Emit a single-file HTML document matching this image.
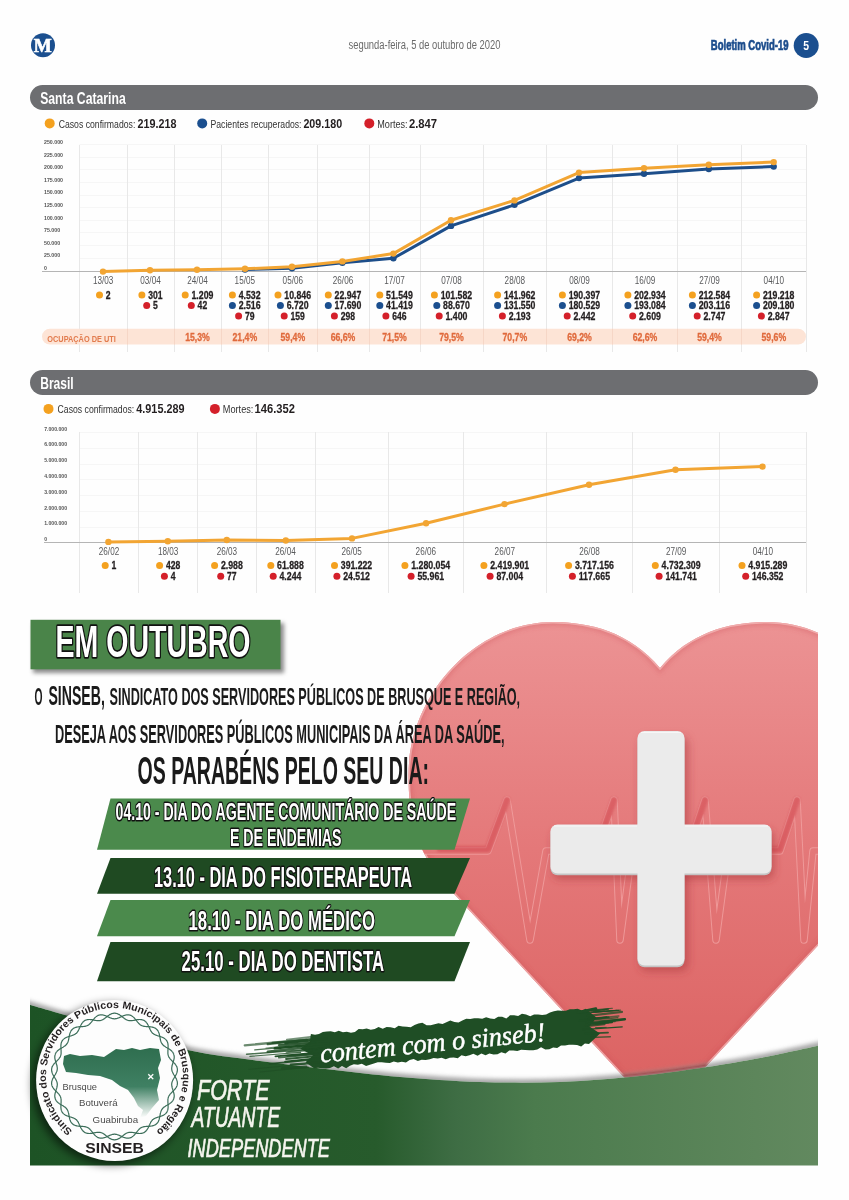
<!DOCTYPE html>
<html><head><meta charset="utf-8"><title>Boletim Covid-19</title>
<style>
html,body{margin:0;padding:0;background:#fff;}
body{width:849px;height:1200px;overflow:hidden;}
svg{display:block;}
</style></head>
<body>
<svg width="849" height="1200" viewBox="0 0 849 1200">
<rect x="0" y="0" width="849" height="1200" fill="#fefefe"/>
<circle cx="43.0" cy="45.3" r="12" fill="#1b4f8f"/>
<text x="42.8" y="51.6" font-family="'Liberation Serif', 'Times New Roman', serif" font-size="18.5" font-weight="bold" fill="#fff" text-anchor="middle" textLength="18.0" lengthAdjust="spacingAndGlyphs" stroke="#fff" stroke-width="0.6">M</text>
<text x="424.5" y="49.2" font-family="'Liberation Sans', Arial, sans-serif" font-size="12" fill="#6a6a6a" text-anchor="middle" textLength="152.0" lengthAdjust="spacingAndGlyphs">segunda-feira, 5 de outubro de 2020</text>
<text x="710.8" y="50.4" font-family="'Liberation Sans', Arial, sans-serif" font-size="14.5" font-weight="bold" fill="#1b4c8c" textLength="77.8" lengthAdjust="spacingAndGlyphs" stroke="#1b4c8c" stroke-width="0.7">Boletim Covid-19</text>
<circle cx="806.2" cy="45.5" r="12.5" fill="#1b4f8f"/>
<text x="806.2" y="50.3" font-family="'Liberation Sans', Arial, sans-serif" font-size="13" font-weight="bold" fill="#fff" text-anchor="middle" textLength="5.8" lengthAdjust="spacingAndGlyphs">5</text>
<rect x="30" y="85" width="788" height="25" rx="12.5" fill="#6d6e71"/>
<text x="40.2" y="103.6" font-family="'Liberation Sans', Arial, sans-serif" font-size="16" font-weight="bold" fill="#fff" textLength="85.5" lengthAdjust="spacingAndGlyphs">Santa Catarina</text>
<circle cx="49.7" cy="123.4" r="5" fill="#f4a11f"/>
<text x="58.7" y="127.7" font-family="'Liberation Sans', Arial, sans-serif" font-size="11.6" fill="#333" textLength="76.6" lengthAdjust="spacingAndGlyphs">Casos confirmados:</text>
<text x="137.4" y="127.7" font-family="'Liberation Sans', Arial, sans-serif" font-size="13" font-weight="bold" fill="#231f20" textLength="39.0" lengthAdjust="spacingAndGlyphs">219.218</text>
<circle cx="202.2" cy="123.4" r="5" fill="#1b4f8f"/>
<text x="210.5" y="127.7" font-family="'Liberation Sans', Arial, sans-serif" font-size="11.6" fill="#333" textLength="91.0" lengthAdjust="spacingAndGlyphs">Pacientes recuperados:</text>
<text x="303.4" y="127.7" font-family="'Liberation Sans', Arial, sans-serif" font-size="13" font-weight="bold" fill="#231f20" textLength="38.8" lengthAdjust="spacingAndGlyphs">209.180</text>
<circle cx="369.3" cy="123.4" r="5" fill="#d4202a"/>
<text x="377.3" y="127.7" font-family="'Liberation Sans', Arial, sans-serif" font-size="11.6" fill="#333" textLength="30.3" lengthAdjust="spacingAndGlyphs">Mortes:</text>
<text x="408.9" y="127.7" font-family="'Liberation Sans', Arial, sans-serif" font-size="13" font-weight="bold" fill="#231f20" textLength="28.2" lengthAdjust="spacingAndGlyphs">2.847</text>
<line x1="79.5" y1="144.5" x2="806" y2="144.5" stroke="#f6f6f6" stroke-width="1"/>
<line x1="79.5" y1="157.5" x2="806" y2="157.5" stroke="#f6f6f6" stroke-width="1"/>
<line x1="79.5" y1="169.5" x2="806" y2="169.5" stroke="#f6f6f6" stroke-width="1"/>
<line x1="79.5" y1="182.5" x2="806" y2="182.5" stroke="#f6f6f6" stroke-width="1"/>
<line x1="79.5" y1="195.5" x2="806" y2="195.5" stroke="#f6f6f6" stroke-width="1"/>
<line x1="79.5" y1="207.5" x2="806" y2="207.5" stroke="#f6f6f6" stroke-width="1"/>
<line x1="79.5" y1="220.5" x2="806" y2="220.5" stroke="#f6f6f6" stroke-width="1"/>
<line x1="79.5" y1="232.5" x2="806" y2="232.5" stroke="#f6f6f6" stroke-width="1"/>
<line x1="79.5" y1="245.5" x2="806" y2="245.5" stroke="#f6f6f6" stroke-width="1"/>
<line x1="79.5" y1="258.5" x2="806" y2="258.5" stroke="#f6f6f6" stroke-width="1"/>
<line x1="79.5" y1="145" x2="79.5" y2="352" stroke="#e8e8e8" stroke-width="1"/>
<line x1="127.5" y1="145" x2="127.5" y2="352" stroke="#e8e8e8" stroke-width="1"/>
<line x1="174.5" y1="145" x2="174.5" y2="352" stroke="#e8e8e8" stroke-width="1"/>
<line x1="221.5" y1="145" x2="221.5" y2="352" stroke="#e8e8e8" stroke-width="1"/>
<line x1="268.5" y1="145" x2="268.5" y2="352" stroke="#e8e8e8" stroke-width="1"/>
<line x1="317.5" y1="145" x2="317.5" y2="352" stroke="#e8e8e8" stroke-width="1"/>
<line x1="369.5" y1="145" x2="369.5" y2="352" stroke="#e8e8e8" stroke-width="1"/>
<line x1="420.5" y1="145" x2="420.5" y2="352" stroke="#e8e8e8" stroke-width="1"/>
<line x1="483.5" y1="145" x2="483.5" y2="352" stroke="#e8e8e8" stroke-width="1"/>
<line x1="546.5" y1="145" x2="546.5" y2="352" stroke="#e8e8e8" stroke-width="1"/>
<line x1="612.5" y1="145" x2="612.5" y2="352" stroke="#e8e8e8" stroke-width="1"/>
<line x1="677.5" y1="145" x2="677.5" y2="352" stroke="#e8e8e8" stroke-width="1"/>
<line x1="741.5" y1="145" x2="741.5" y2="352" stroke="#e8e8e8" stroke-width="1"/>
<line x1="806.5" y1="145" x2="806.5" y2="352" stroke="#e8e8e8" stroke-width="1"/>
<line x1="42" y1="271.5" x2="806" y2="271.5" stroke="#b5b5b5" stroke-width="1"/>
<text x="44.0" y="143.9" font-family="'Liberation Sans', Arial, sans-serif" font-size="5.2" font-weight="bold" fill="#555" textLength="19.0" lengthAdjust="spacingAndGlyphs">250.000</text>
<text x="44.0" y="156.5" font-family="'Liberation Sans', Arial, sans-serif" font-size="5.2" font-weight="bold" fill="#555" textLength="19.0" lengthAdjust="spacingAndGlyphs">225.000</text>
<text x="44.0" y="169.1" font-family="'Liberation Sans', Arial, sans-serif" font-size="5.2" font-weight="bold" fill="#555" textLength="19.0" lengthAdjust="spacingAndGlyphs">200.000</text>
<text x="44.0" y="181.7" font-family="'Liberation Sans', Arial, sans-serif" font-size="5.2" font-weight="bold" fill="#555" textLength="19.0" lengthAdjust="spacingAndGlyphs">175.000</text>
<text x="44.0" y="194.3" font-family="'Liberation Sans', Arial, sans-serif" font-size="5.2" font-weight="bold" fill="#555" textLength="19.0" lengthAdjust="spacingAndGlyphs">150.000</text>
<text x="44.0" y="206.9" font-family="'Liberation Sans', Arial, sans-serif" font-size="5.2" font-weight="bold" fill="#555" textLength="19.0" lengthAdjust="spacingAndGlyphs">125.000</text>
<text x="44.0" y="219.5" font-family="'Liberation Sans', Arial, sans-serif" font-size="5.2" font-weight="bold" fill="#555" textLength="19.0" lengthAdjust="spacingAndGlyphs">100.000</text>
<text x="44.0" y="232.1" font-family="'Liberation Sans', Arial, sans-serif" font-size="5.2" font-weight="bold" fill="#555" textLength="16.1" lengthAdjust="spacingAndGlyphs">75.000</text>
<text x="44.0" y="244.7" font-family="'Liberation Sans', Arial, sans-serif" font-size="5.2" font-weight="bold" fill="#555" textLength="16.1" lengthAdjust="spacingAndGlyphs">50.000</text>
<text x="44.0" y="257.3" font-family="'Liberation Sans', Arial, sans-serif" font-size="5.2" font-weight="bold" fill="#555" textLength="16.1" lengthAdjust="spacingAndGlyphs">25.000</text>
<text x="44.0" y="269.9" font-family="'Liberation Sans', Arial, sans-serif" font-size="5.2" font-weight="bold" fill="#555" textLength="2.9" lengthAdjust="spacingAndGlyphs">0</text>
<rect x="42" y="328.8" width="764" height="15.8" rx="7.9" fill="#fde4d6"/>
<line x1="127.5" y1="328.8" x2="127.5" y2="344.6" stroke="#f6d6c6" stroke-width="1"/>
<line x1="174.5" y1="328.8" x2="174.5" y2="344.6" stroke="#f6d6c6" stroke-width="1"/>
<line x1="221.5" y1="328.8" x2="221.5" y2="344.6" stroke="#f6d6c6" stroke-width="1"/>
<line x1="268.5" y1="328.8" x2="268.5" y2="344.6" stroke="#f6d6c6" stroke-width="1"/>
<line x1="317.5" y1="328.8" x2="317.5" y2="344.6" stroke="#f6d6c6" stroke-width="1"/>
<line x1="369.5" y1="328.8" x2="369.5" y2="344.6" stroke="#f6d6c6" stroke-width="1"/>
<line x1="420.5" y1="328.8" x2="420.5" y2="344.6" stroke="#f6d6c6" stroke-width="1"/>
<line x1="483.5" y1="328.8" x2="483.5" y2="344.6" stroke="#f6d6c6" stroke-width="1"/>
<line x1="546.5" y1="328.8" x2="546.5" y2="344.6" stroke="#f6d6c6" stroke-width="1"/>
<line x1="612.5" y1="328.8" x2="612.5" y2="344.6" stroke="#f6d6c6" stroke-width="1"/>
<line x1="677.5" y1="328.8" x2="677.5" y2="344.6" stroke="#f6d6c6" stroke-width="1"/>
<line x1="741.5" y1="328.8" x2="741.5" y2="344.6" stroke="#f6d6c6" stroke-width="1"/>
<polyline points="245,269.5 292,268.2 342.4,262.7 393.4,258.3 451,225.9 514.5,204.8 579,178.1 644,173.7 708.8,169.0 773.7,166.6" fill="none" stroke="#1d4e8a" stroke-width="3" stroke-linejoin="round"/>
<circle cx="245.0" cy="269.5" r="3.2" fill="#1d4e8a"/>
<circle cx="292.0" cy="268.2" r="3.2" fill="#1d4e8a"/>
<circle cx="342.4" cy="262.7" r="3.2" fill="#1d4e8a"/>
<circle cx="393.4" cy="258.3" r="3.2" fill="#1d4e8a"/>
<circle cx="451.0" cy="225.9" r="3.2" fill="#1d4e8a"/>
<circle cx="514.5" cy="204.8" r="3.2" fill="#1d4e8a"/>
<circle cx="579.0" cy="178.1" r="3.2" fill="#1d4e8a"/>
<circle cx="644.0" cy="173.7" r="3.2" fill="#1d4e8a"/>
<circle cx="708.8" cy="169.0" r="3.2" fill="#1d4e8a"/>
<circle cx="773.7" cy="166.6" r="3.2" fill="#1d4e8a"/>
<polyline points="103,271.6 150,270.3 197,269.8 245,268.8 292,266.8 342.4,261.4 393.4,253.6 451,220.2 514.5,200.4 579,172.6 644,168.3 708.8,164.7 773.7,162.1" fill="none" stroke="#f2a533" stroke-width="3" stroke-linejoin="round"/>
<circle cx="103.0" cy="271.6" r="3.2" fill="#f2a533"/>
<circle cx="150.0" cy="270.3" r="3.2" fill="#f2a533"/>
<circle cx="197.0" cy="269.8" r="3.2" fill="#f2a533"/>
<circle cx="245.0" cy="268.8" r="3.2" fill="#f2a533"/>
<circle cx="292.0" cy="266.8" r="3.2" fill="#f2a533"/>
<circle cx="342.4" cy="261.4" r="3.2" fill="#f2a533"/>
<circle cx="393.4" cy="253.6" r="3.2" fill="#f2a533"/>
<circle cx="451.0" cy="220.2" r="3.2" fill="#f2a533"/>
<circle cx="514.5" cy="200.4" r="3.2" fill="#f2a533"/>
<circle cx="579.0" cy="172.6" r="3.2" fill="#f2a533"/>
<circle cx="644.0" cy="168.3" r="3.2" fill="#f2a533"/>
<circle cx="708.8" cy="164.7" r="3.2" fill="#f2a533"/>
<circle cx="773.7" cy="162.1" r="3.2" fill="#f2a533"/>
<text x="103.2" y="283.9" font-family="'Liberation Sans', Arial, sans-serif" font-size="10.2" fill="#58595b" text-anchor="middle" textLength="20.4" lengthAdjust="spacingAndGlyphs">13/03</text>
<circle cx="99.5" cy="294.9" r="3.5" fill="#f4a11f"/>
<text x="105.8" y="298.6" font-family="'Liberation Sans', Arial, sans-serif" font-size="11" font-weight="bold" fill="#231f20" textLength="4.8" lengthAdjust="spacingAndGlyphs" stroke="#231f20" stroke-width="0.3">2</text>
<text x="150.5" y="283.9" font-family="'Liberation Sans', Arial, sans-serif" font-size="10.2" fill="#58595b" text-anchor="middle" textLength="20.4" lengthAdjust="spacingAndGlyphs">03/04</text>
<circle cx="141.9" cy="294.9" r="3.5" fill="#f4a11f"/>
<text x="148.2" y="298.6" font-family="'Liberation Sans', Arial, sans-serif" font-size="11" font-weight="bold" fill="#231f20" textLength="14.3" lengthAdjust="spacingAndGlyphs" stroke="#231f20" stroke-width="0.3">301</text>
<circle cx="146.7" cy="305.5" r="3.5" fill="#d4202a"/>
<text x="153.0" y="309.2" font-family="'Liberation Sans', Arial, sans-serif" font-size="11" font-weight="bold" fill="#231f20" textLength="4.8" lengthAdjust="spacingAndGlyphs" stroke="#231f20" stroke-width="0.3">5</text>
<text x="197.5" y="283.9" font-family="'Liberation Sans', Arial, sans-serif" font-size="10.2" fill="#58595b" text-anchor="middle" textLength="20.4" lengthAdjust="spacingAndGlyphs">24/04</text>
<circle cx="185.2" cy="294.9" r="3.5" fill="#f4a11f"/>
<text x="191.5" y="298.6" font-family="'Liberation Sans', Arial, sans-serif" font-size="11" font-weight="bold" fill="#231f20" textLength="21.9" lengthAdjust="spacingAndGlyphs" stroke="#231f20" stroke-width="0.3">1.209</text>
<circle cx="191.3" cy="305.5" r="3.5" fill="#d4202a"/>
<text x="197.6" y="309.2" font-family="'Liberation Sans', Arial, sans-serif" font-size="11" font-weight="bold" fill="#231f20" textLength="9.6" lengthAdjust="spacingAndGlyphs" stroke="#231f20" stroke-width="0.3">42</text>
<text x="197.5" y="341.4" font-family="'Liberation Sans', Arial, sans-serif" font-size="10.8" font-weight="bold" fill="#e06a3c" text-anchor="middle" textLength="24.7" lengthAdjust="spacingAndGlyphs" stroke="#e06a3c" stroke-width="0.3">15,3%</text>
<text x="244.8" y="283.9" font-family="'Liberation Sans', Arial, sans-serif" font-size="10.2" fill="#58595b" text-anchor="middle" textLength="20.4" lengthAdjust="spacingAndGlyphs">15/05</text>
<circle cx="232.4" cy="294.9" r="3.5" fill="#f4a11f"/>
<text x="238.7" y="298.6" font-family="'Liberation Sans', Arial, sans-serif" font-size="11" font-weight="bold" fill="#231f20" textLength="21.9" lengthAdjust="spacingAndGlyphs" stroke="#231f20" stroke-width="0.3">4.532</text>
<circle cx="232.4" cy="305.5" r="3.5" fill="#1b4f8f"/>
<text x="238.7" y="309.2" font-family="'Liberation Sans', Arial, sans-serif" font-size="11" font-weight="bold" fill="#231f20" textLength="21.9" lengthAdjust="spacingAndGlyphs" stroke="#231f20" stroke-width="0.3">2.516</text>
<circle cx="238.6" cy="316.1" r="3.5" fill="#d4202a"/>
<text x="244.9" y="319.8" font-family="'Liberation Sans', Arial, sans-serif" font-size="11" font-weight="bold" fill="#231f20" textLength="9.6" lengthAdjust="spacingAndGlyphs" stroke="#231f20" stroke-width="0.3">79</text>
<text x="244.8" y="341.4" font-family="'Liberation Sans', Arial, sans-serif" font-size="10.8" font-weight="bold" fill="#e06a3c" text-anchor="middle" textLength="24.7" lengthAdjust="spacingAndGlyphs" stroke="#e06a3c" stroke-width="0.3">21,4%</text>
<text x="292.8" y="283.9" font-family="'Liberation Sans', Arial, sans-serif" font-size="10.2" fill="#58595b" text-anchor="middle" textLength="20.4" lengthAdjust="spacingAndGlyphs">05/06</text>
<circle cx="278.0" cy="294.9" r="3.5" fill="#f4a11f"/>
<text x="284.3" y="298.6" font-family="'Liberation Sans', Arial, sans-serif" font-size="11" font-weight="bold" fill="#231f20" textLength="26.7" lengthAdjust="spacingAndGlyphs" stroke="#231f20" stroke-width="0.3">10.846</text>
<circle cx="280.4" cy="305.5" r="3.5" fill="#1b4f8f"/>
<text x="286.7" y="309.2" font-family="'Liberation Sans', Arial, sans-serif" font-size="11" font-weight="bold" fill="#231f20" textLength="21.9" lengthAdjust="spacingAndGlyphs" stroke="#231f20" stroke-width="0.3">6.720</text>
<circle cx="284.2" cy="316.1" r="3.5" fill="#d4202a"/>
<text x="290.5" y="319.8" font-family="'Liberation Sans', Arial, sans-serif" font-size="11" font-weight="bold" fill="#231f20" textLength="14.3" lengthAdjust="spacingAndGlyphs" stroke="#231f20" stroke-width="0.3">159</text>
<text x="292.8" y="341.4" font-family="'Liberation Sans', Arial, sans-serif" font-size="10.8" font-weight="bold" fill="#e06a3c" text-anchor="middle" textLength="24.7" lengthAdjust="spacingAndGlyphs" stroke="#e06a3c" stroke-width="0.3">59,4%</text>
<text x="343.0" y="283.9" font-family="'Liberation Sans', Arial, sans-serif" font-size="10.2" fill="#58595b" text-anchor="middle" textLength="20.4" lengthAdjust="spacingAndGlyphs">26/06</text>
<circle cx="328.3" cy="294.9" r="3.5" fill="#f4a11f"/>
<text x="334.6" y="298.6" font-family="'Liberation Sans', Arial, sans-serif" font-size="11" font-weight="bold" fill="#231f20" textLength="26.7" lengthAdjust="spacingAndGlyphs" stroke="#231f20" stroke-width="0.3">22.947</text>
<circle cx="328.3" cy="305.5" r="3.5" fill="#1b4f8f"/>
<text x="334.6" y="309.2" font-family="'Liberation Sans', Arial, sans-serif" font-size="11" font-weight="bold" fill="#231f20" textLength="26.7" lengthAdjust="spacingAndGlyphs" stroke="#231f20" stroke-width="0.3">17.690</text>
<circle cx="334.4" cy="316.1" r="3.5" fill="#d4202a"/>
<text x="340.7" y="319.8" font-family="'Liberation Sans', Arial, sans-serif" font-size="11" font-weight="bold" fill="#231f20" textLength="14.3" lengthAdjust="spacingAndGlyphs" stroke="#231f20" stroke-width="0.3">298</text>
<text x="343.0" y="341.4" font-family="'Liberation Sans', Arial, sans-serif" font-size="10.8" font-weight="bold" fill="#e06a3c" text-anchor="middle" textLength="24.7" lengthAdjust="spacingAndGlyphs" stroke="#e06a3c" stroke-width="0.3">66,6%</text>
<text x="394.5" y="283.9" font-family="'Liberation Sans', Arial, sans-serif" font-size="10.2" fill="#58595b" text-anchor="middle" textLength="20.4" lengthAdjust="spacingAndGlyphs">17/07</text>
<circle cx="379.8" cy="294.9" r="3.5" fill="#f4a11f"/>
<text x="386.1" y="298.6" font-family="'Liberation Sans', Arial, sans-serif" font-size="11" font-weight="bold" fill="#231f20" textLength="26.7" lengthAdjust="spacingAndGlyphs" stroke="#231f20" stroke-width="0.3">51.549</text>
<circle cx="379.8" cy="305.5" r="3.5" fill="#1b4f8f"/>
<text x="386.1" y="309.2" font-family="'Liberation Sans', Arial, sans-serif" font-size="11" font-weight="bold" fill="#231f20" textLength="26.7" lengthAdjust="spacingAndGlyphs" stroke="#231f20" stroke-width="0.3">41.419</text>
<circle cx="385.9" cy="316.1" r="3.5" fill="#d4202a"/>
<text x="392.2" y="319.8" font-family="'Liberation Sans', Arial, sans-serif" font-size="11" font-weight="bold" fill="#231f20" textLength="14.3" lengthAdjust="spacingAndGlyphs" stroke="#231f20" stroke-width="0.3">646</text>
<text x="394.5" y="341.4" font-family="'Liberation Sans', Arial, sans-serif" font-size="10.8" font-weight="bold" fill="#e06a3c" text-anchor="middle" textLength="24.7" lengthAdjust="spacingAndGlyphs" stroke="#e06a3c" stroke-width="0.3">71,5%</text>
<text x="451.5" y="283.9" font-family="'Liberation Sans', Arial, sans-serif" font-size="10.2" fill="#58595b" text-anchor="middle" textLength="20.4" lengthAdjust="spacingAndGlyphs">07/08</text>
<circle cx="434.4" cy="294.9" r="3.5" fill="#f4a11f"/>
<text x="440.7" y="298.6" font-family="'Liberation Sans', Arial, sans-serif" font-size="11" font-weight="bold" fill="#231f20" textLength="31.4" lengthAdjust="spacingAndGlyphs" stroke="#231f20" stroke-width="0.3">101.582</text>
<circle cx="436.8" cy="305.5" r="3.5" fill="#1b4f8f"/>
<text x="443.1" y="309.2" font-family="'Liberation Sans', Arial, sans-serif" font-size="11" font-weight="bold" fill="#231f20" textLength="26.7" lengthAdjust="spacingAndGlyphs" stroke="#231f20" stroke-width="0.3">88.670</text>
<circle cx="439.2" cy="316.1" r="3.5" fill="#d4202a"/>
<text x="445.5" y="319.8" font-family="'Liberation Sans', Arial, sans-serif" font-size="11" font-weight="bold" fill="#231f20" textLength="21.9" lengthAdjust="spacingAndGlyphs" stroke="#231f20" stroke-width="0.3">1.400</text>
<text x="451.5" y="341.4" font-family="'Liberation Sans', Arial, sans-serif" font-size="10.8" font-weight="bold" fill="#e06a3c" text-anchor="middle" textLength="24.7" lengthAdjust="spacingAndGlyphs" stroke="#e06a3c" stroke-width="0.3">79,5%</text>
<text x="514.8" y="283.9" font-family="'Liberation Sans', Arial, sans-serif" font-size="10.2" fill="#58595b" text-anchor="middle" textLength="20.4" lengthAdjust="spacingAndGlyphs">28/08</text>
<circle cx="497.6" cy="294.9" r="3.5" fill="#f4a11f"/>
<text x="503.9" y="298.6" font-family="'Liberation Sans', Arial, sans-serif" font-size="11" font-weight="bold" fill="#231f20" textLength="31.4" lengthAdjust="spacingAndGlyphs" stroke="#231f20" stroke-width="0.3">141.962</text>
<circle cx="497.6" cy="305.5" r="3.5" fill="#1b4f8f"/>
<text x="503.9" y="309.2" font-family="'Liberation Sans', Arial, sans-serif" font-size="11" font-weight="bold" fill="#231f20" textLength="31.4" lengthAdjust="spacingAndGlyphs" stroke="#231f20" stroke-width="0.3">131.550</text>
<circle cx="502.4" cy="316.1" r="3.5" fill="#d4202a"/>
<text x="508.7" y="319.8" font-family="'Liberation Sans', Arial, sans-serif" font-size="11" font-weight="bold" fill="#231f20" textLength="21.9" lengthAdjust="spacingAndGlyphs" stroke="#231f20" stroke-width="0.3">2.193</text>
<text x="514.8" y="341.4" font-family="'Liberation Sans', Arial, sans-serif" font-size="10.8" font-weight="bold" fill="#e06a3c" text-anchor="middle" textLength="24.7" lengthAdjust="spacingAndGlyphs" stroke="#e06a3c" stroke-width="0.3">70,7%</text>
<text x="579.5" y="283.9" font-family="'Liberation Sans', Arial, sans-serif" font-size="10.2" fill="#58595b" text-anchor="middle" textLength="20.4" lengthAdjust="spacingAndGlyphs">08/09</text>
<circle cx="562.4" cy="294.9" r="3.5" fill="#f4a11f"/>
<text x="568.7" y="298.6" font-family="'Liberation Sans', Arial, sans-serif" font-size="11" font-weight="bold" fill="#231f20" textLength="31.4" lengthAdjust="spacingAndGlyphs" stroke="#231f20" stroke-width="0.3">190.397</text>
<circle cx="562.4" cy="305.5" r="3.5" fill="#1b4f8f"/>
<text x="568.7" y="309.2" font-family="'Liberation Sans', Arial, sans-serif" font-size="11" font-weight="bold" fill="#231f20" textLength="31.4" lengthAdjust="spacingAndGlyphs" stroke="#231f20" stroke-width="0.3">180.529</text>
<circle cx="567.2" cy="316.1" r="3.5" fill="#d4202a"/>
<text x="573.5" y="319.8" font-family="'Liberation Sans', Arial, sans-serif" font-size="11" font-weight="bold" fill="#231f20" textLength="21.9" lengthAdjust="spacingAndGlyphs" stroke="#231f20" stroke-width="0.3">2.442</text>
<text x="579.5" y="341.4" font-family="'Liberation Sans', Arial, sans-serif" font-size="10.8" font-weight="bold" fill="#e06a3c" text-anchor="middle" textLength="24.7" lengthAdjust="spacingAndGlyphs" stroke="#e06a3c" stroke-width="0.3">69,2%</text>
<text x="645.0" y="283.9" font-family="'Liberation Sans', Arial, sans-serif" font-size="10.2" fill="#58595b" text-anchor="middle" textLength="20.4" lengthAdjust="spacingAndGlyphs">16/09</text>
<circle cx="627.9" cy="294.9" r="3.5" fill="#f4a11f"/>
<text x="634.2" y="298.6" font-family="'Liberation Sans', Arial, sans-serif" font-size="11" font-weight="bold" fill="#231f20" textLength="31.4" lengthAdjust="spacingAndGlyphs" stroke="#231f20" stroke-width="0.3">202.934</text>
<circle cx="627.9" cy="305.5" r="3.5" fill="#1b4f8f"/>
<text x="634.2" y="309.2" font-family="'Liberation Sans', Arial, sans-serif" font-size="11" font-weight="bold" fill="#231f20" textLength="31.4" lengthAdjust="spacingAndGlyphs" stroke="#231f20" stroke-width="0.3">193.084</text>
<circle cx="632.7" cy="316.1" r="3.5" fill="#d4202a"/>
<text x="639.0" y="319.8" font-family="'Liberation Sans', Arial, sans-serif" font-size="11" font-weight="bold" fill="#231f20" textLength="21.9" lengthAdjust="spacingAndGlyphs" stroke="#231f20" stroke-width="0.3">2.609</text>
<text x="645.0" y="341.4" font-family="'Liberation Sans', Arial, sans-serif" font-size="10.8" font-weight="bold" fill="#e06a3c" text-anchor="middle" textLength="24.7" lengthAdjust="spacingAndGlyphs" stroke="#e06a3c" stroke-width="0.3">62,6%</text>
<text x="709.5" y="283.9" font-family="'Liberation Sans', Arial, sans-serif" font-size="10.2" fill="#58595b" text-anchor="middle" textLength="20.4" lengthAdjust="spacingAndGlyphs">27/09</text>
<circle cx="692.4" cy="294.9" r="3.5" fill="#f4a11f"/>
<text x="698.7" y="298.6" font-family="'Liberation Sans', Arial, sans-serif" font-size="11" font-weight="bold" fill="#231f20" textLength="31.4" lengthAdjust="spacingAndGlyphs" stroke="#231f20" stroke-width="0.3">212.584</text>
<circle cx="692.4" cy="305.5" r="3.5" fill="#1b4f8f"/>
<text x="698.7" y="309.2" font-family="'Liberation Sans', Arial, sans-serif" font-size="11" font-weight="bold" fill="#231f20" textLength="31.4" lengthAdjust="spacingAndGlyphs" stroke="#231f20" stroke-width="0.3">203.116</text>
<circle cx="697.2" cy="316.1" r="3.5" fill="#d4202a"/>
<text x="703.5" y="319.8" font-family="'Liberation Sans', Arial, sans-serif" font-size="11" font-weight="bold" fill="#231f20" textLength="21.9" lengthAdjust="spacingAndGlyphs" stroke="#231f20" stroke-width="0.3">2.747</text>
<text x="709.5" y="341.4" font-family="'Liberation Sans', Arial, sans-serif" font-size="10.8" font-weight="bold" fill="#e06a3c" text-anchor="middle" textLength="24.7" lengthAdjust="spacingAndGlyphs" stroke="#e06a3c" stroke-width="0.3">59,4%</text>
<text x="773.8" y="283.9" font-family="'Liberation Sans', Arial, sans-serif" font-size="10.2" fill="#58595b" text-anchor="middle" textLength="20.4" lengthAdjust="spacingAndGlyphs">04/10</text>
<circle cx="756.6" cy="294.9" r="3.5" fill="#f4a11f"/>
<text x="762.9" y="298.6" font-family="'Liberation Sans', Arial, sans-serif" font-size="11" font-weight="bold" fill="#231f20" textLength="31.4" lengthAdjust="spacingAndGlyphs" stroke="#231f20" stroke-width="0.3">219.218</text>
<circle cx="756.6" cy="305.5" r="3.5" fill="#1b4f8f"/>
<text x="762.9" y="309.2" font-family="'Liberation Sans', Arial, sans-serif" font-size="11" font-weight="bold" fill="#231f20" textLength="31.4" lengthAdjust="spacingAndGlyphs" stroke="#231f20" stroke-width="0.3">209.180</text>
<circle cx="761.4" cy="316.1" r="3.5" fill="#d4202a"/>
<text x="767.7" y="319.8" font-family="'Liberation Sans', Arial, sans-serif" font-size="11" font-weight="bold" fill="#231f20" textLength="21.9" lengthAdjust="spacingAndGlyphs" stroke="#231f20" stroke-width="0.3">2.847</text>
<text x="773.8" y="341.4" font-family="'Liberation Sans', Arial, sans-serif" font-size="10.8" font-weight="bold" fill="#e06a3c" text-anchor="middle" textLength="24.7" lengthAdjust="spacingAndGlyphs" stroke="#e06a3c" stroke-width="0.3">59,6%</text>
<text x="47.3" y="341.6" font-family="'Liberation Sans', Arial, sans-serif" font-size="9.6" font-weight="bold" fill="#e27b4d" textLength="68.5" lengthAdjust="spacingAndGlyphs">OCUPAÇÃO DE UTI</text>
<rect x="30" y="370" width="788" height="25" rx="12.5" fill="#6d6e71"/>
<text x="40.2" y="388.6" font-family="'Liberation Sans', Arial, sans-serif" font-size="16" font-weight="bold" fill="#fff" textLength="33.5" lengthAdjust="spacingAndGlyphs">Brasil</text>
<circle cx="48.5" cy="408.9" r="5" fill="#f4a11f"/>
<text x="57.6" y="413.2" font-family="'Liberation Sans', Arial, sans-serif" font-size="11.6" fill="#333" textLength="76.6" lengthAdjust="spacingAndGlyphs">Casos confirmados:</text>
<text x="136.3" y="413.2" font-family="'Liberation Sans', Arial, sans-serif" font-size="13" font-weight="bold" fill="#231f20" textLength="48.2" lengthAdjust="spacingAndGlyphs">4.915.289</text>
<circle cx="214.9" cy="408.9" r="5" fill="#d4202a"/>
<text x="222.8" y="413.2" font-family="'Liberation Sans', Arial, sans-serif" font-size="11.6" fill="#333" textLength="30.6" lengthAdjust="spacingAndGlyphs">Mortes:</text>
<text x="254.5" y="413.2" font-family="'Liberation Sans', Arial, sans-serif" font-size="13" font-weight="bold" fill="#231f20" textLength="40.4" lengthAdjust="spacingAndGlyphs">146.352</text>
<line x1="79.5" y1="432.5" x2="806" y2="432.5" stroke="#f6f6f6" stroke-width="1"/>
<line x1="79.5" y1="448.5" x2="806" y2="448.5" stroke="#f6f6f6" stroke-width="1"/>
<line x1="79.5" y1="464.5" x2="806" y2="464.5" stroke="#f6f6f6" stroke-width="1"/>
<line x1="79.5" y1="479.5" x2="806" y2="479.5" stroke="#f6f6f6" stroke-width="1"/>
<line x1="79.5" y1="495.5" x2="806" y2="495.5" stroke="#f6f6f6" stroke-width="1"/>
<line x1="79.5" y1="511.5" x2="806" y2="511.5" stroke="#f6f6f6" stroke-width="1"/>
<line x1="79.5" y1="527.5" x2="806" y2="527.5" stroke="#f6f6f6" stroke-width="1"/>
<line x1="79.5" y1="432" x2="79.5" y2="593" stroke="#e8e8e8" stroke-width="1"/>
<line x1="138.5" y1="432" x2="138.5" y2="593" stroke="#e8e8e8" stroke-width="1"/>
<line x1="197.5" y1="432" x2="197.5" y2="593" stroke="#e8e8e8" stroke-width="1"/>
<line x1="256.5" y1="432" x2="256.5" y2="593" stroke="#e8e8e8" stroke-width="1"/>
<line x1="315.5" y1="432" x2="315.5" y2="593" stroke="#e8e8e8" stroke-width="1"/>
<line x1="388.5" y1="432" x2="388.5" y2="593" stroke="#e8e8e8" stroke-width="1"/>
<line x1="463.5" y1="432" x2="463.5" y2="593" stroke="#e8e8e8" stroke-width="1"/>
<line x1="546.5" y1="432" x2="546.5" y2="593" stroke="#e8e8e8" stroke-width="1"/>
<line x1="632.5" y1="432" x2="632.5" y2="593" stroke="#e8e8e8" stroke-width="1"/>
<line x1="719.5" y1="432" x2="719.5" y2="593" stroke="#e8e8e8" stroke-width="1"/>
<line x1="806.5" y1="432" x2="806.5" y2="593" stroke="#e8e8e8" stroke-width="1"/>
<line x1="44" y1="542.5" x2="806" y2="542.5" stroke="#b5b5b5" stroke-width="1"/>
<text x="44.2" y="430.6" font-family="'Liberation Sans', Arial, sans-serif" font-size="5.2" font-weight="bold" fill="#555" textLength="22.9" lengthAdjust="spacingAndGlyphs">7.000.000</text>
<text x="44.2" y="446.4" font-family="'Liberation Sans', Arial, sans-serif" font-size="5.2" font-weight="bold" fill="#555" textLength="22.9" lengthAdjust="spacingAndGlyphs">6.000.000</text>
<text x="44.2" y="462.2" font-family="'Liberation Sans', Arial, sans-serif" font-size="5.2" font-weight="bold" fill="#555" textLength="22.9" lengthAdjust="spacingAndGlyphs">5.000.000</text>
<text x="44.2" y="478.0" font-family="'Liberation Sans', Arial, sans-serif" font-size="5.2" font-weight="bold" fill="#555" textLength="22.9" lengthAdjust="spacingAndGlyphs">4.000.000</text>
<text x="44.2" y="493.8" font-family="'Liberation Sans', Arial, sans-serif" font-size="5.2" font-weight="bold" fill="#555" textLength="22.9" lengthAdjust="spacingAndGlyphs">3.000.000</text>
<text x="44.2" y="509.6" font-family="'Liberation Sans', Arial, sans-serif" font-size="5.2" font-weight="bold" fill="#555" textLength="22.9" lengthAdjust="spacingAndGlyphs">2.000.000</text>
<text x="44.2" y="525.4" font-family="'Liberation Sans', Arial, sans-serif" font-size="5.2" font-weight="bold" fill="#555" textLength="22.9" lengthAdjust="spacingAndGlyphs">1.000.000</text>
<text x="44.2" y="541.2" font-family="'Liberation Sans', Arial, sans-serif" font-size="5.2" font-weight="bold" fill="#555" textLength="2.8" lengthAdjust="spacingAndGlyphs">0</text>
<polyline points="108.4,541.9 167.8,541.2 226.8,540.0 285.8,540.5 352,538.4 426.1,523.2 504.5,504.1 589,484.7 675.5,469.8 762.5,466.6" fill="none" stroke="#f2a533" stroke-width="3" stroke-linejoin="round"/>
<circle cx="108.4" cy="541.9" r="3.2" fill="#f2a533"/>
<circle cx="167.8" cy="541.2" r="3.2" fill="#f2a533"/>
<circle cx="226.8" cy="540.0" r="3.2" fill="#f2a533"/>
<circle cx="285.8" cy="540.5" r="3.2" fill="#f2a533"/>
<circle cx="352.0" cy="538.4" r="3.2" fill="#f2a533"/>
<circle cx="426.1" cy="523.2" r="3.2" fill="#f2a533"/>
<circle cx="504.5" cy="504.1" r="3.2" fill="#f2a533"/>
<circle cx="589.0" cy="484.7" r="3.2" fill="#f2a533"/>
<circle cx="675.5" cy="469.8" r="3.2" fill="#f2a533"/>
<circle cx="762.5" cy="466.6" r="3.2" fill="#f2a533"/>
<text x="109.0" y="555.0" font-family="'Liberation Sans', Arial, sans-serif" font-size="10.2" fill="#58595b" text-anchor="middle" textLength="20.4" lengthAdjust="spacingAndGlyphs">26/02</text>
<circle cx="105.2" cy="565.6" r="3.5" fill="#f4a11f"/>
<text x="111.5" y="569.3" font-family="'Liberation Sans', Arial, sans-serif" font-size="11" font-weight="bold" fill="#231f20" textLength="4.8" lengthAdjust="spacingAndGlyphs" stroke="#231f20" stroke-width="0.3">1</text>
<text x="168.2" y="555.0" font-family="'Liberation Sans', Arial, sans-serif" font-size="10.2" fill="#58595b" text-anchor="middle" textLength="20.4" lengthAdjust="spacingAndGlyphs">18/03</text>
<circle cx="159.6" cy="565.6" r="3.5" fill="#f4a11f"/>
<text x="165.9" y="569.3" font-family="'Liberation Sans', Arial, sans-serif" font-size="11" font-weight="bold" fill="#231f20" textLength="14.3" lengthAdjust="spacingAndGlyphs" stroke="#231f20" stroke-width="0.3">428</text>
<circle cx="164.4" cy="576.2" r="3.5" fill="#d4202a"/>
<text x="170.7" y="579.9" font-family="'Liberation Sans', Arial, sans-serif" font-size="11" font-weight="bold" fill="#231f20" textLength="4.8" lengthAdjust="spacingAndGlyphs" stroke="#231f20" stroke-width="0.3">4</text>
<text x="226.9" y="555.0" font-family="'Liberation Sans', Arial, sans-serif" font-size="10.2" fill="#58595b" text-anchor="middle" textLength="20.4" lengthAdjust="spacingAndGlyphs">26/03</text>
<circle cx="214.6" cy="565.6" r="3.5" fill="#f4a11f"/>
<text x="220.9" y="569.3" font-family="'Liberation Sans', Arial, sans-serif" font-size="11" font-weight="bold" fill="#231f20" textLength="21.9" lengthAdjust="spacingAndGlyphs" stroke="#231f20" stroke-width="0.3">2.988</text>
<circle cx="220.7" cy="576.2" r="3.5" fill="#d4202a"/>
<text x="227.0" y="579.9" font-family="'Liberation Sans', Arial, sans-serif" font-size="11" font-weight="bold" fill="#231f20" textLength="9.6" lengthAdjust="spacingAndGlyphs" stroke="#231f20" stroke-width="0.3">77</text>
<text x="285.5" y="555.0" font-family="'Liberation Sans', Arial, sans-serif" font-size="10.2" fill="#58595b" text-anchor="middle" textLength="20.4" lengthAdjust="spacingAndGlyphs">26/04</text>
<circle cx="270.8" cy="565.6" r="3.5" fill="#f4a11f"/>
<text x="277.1" y="569.3" font-family="'Liberation Sans', Arial, sans-serif" font-size="11" font-weight="bold" fill="#231f20" textLength="26.7" lengthAdjust="spacingAndGlyphs" stroke="#231f20" stroke-width="0.3">61.888</text>
<circle cx="273.2" cy="576.2" r="3.5" fill="#d4202a"/>
<text x="279.5" y="579.9" font-family="'Liberation Sans', Arial, sans-serif" font-size="11" font-weight="bold" fill="#231f20" textLength="21.9" lengthAdjust="spacingAndGlyphs" stroke="#231f20" stroke-width="0.3">4.244</text>
<text x="351.6" y="555.0" font-family="'Liberation Sans', Arial, sans-serif" font-size="10.2" fill="#58595b" text-anchor="middle" textLength="20.4" lengthAdjust="spacingAndGlyphs">26/05</text>
<circle cx="334.5" cy="565.6" r="3.5" fill="#f4a11f"/>
<text x="340.8" y="569.3" font-family="'Liberation Sans', Arial, sans-serif" font-size="11" font-weight="bold" fill="#231f20" textLength="31.4" lengthAdjust="spacingAndGlyphs" stroke="#231f20" stroke-width="0.3">391.222</text>
<circle cx="336.9" cy="576.2" r="3.5" fill="#d4202a"/>
<text x="343.2" y="579.9" font-family="'Liberation Sans', Arial, sans-serif" font-size="11" font-weight="bold" fill="#231f20" textLength="26.7" lengthAdjust="spacingAndGlyphs" stroke="#231f20" stroke-width="0.3">24.512</text>
<text x="425.8" y="555.0" font-family="'Liberation Sans', Arial, sans-serif" font-size="10.2" fill="#58595b" text-anchor="middle" textLength="20.4" lengthAdjust="spacingAndGlyphs">26/06</text>
<circle cx="404.9" cy="565.6" r="3.5" fill="#f4a11f"/>
<text x="411.2" y="569.3" font-family="'Liberation Sans', Arial, sans-serif" font-size="11" font-weight="bold" fill="#231f20" textLength="39.0" lengthAdjust="spacingAndGlyphs" stroke="#231f20" stroke-width="0.3">1.280.054</text>
<circle cx="411.1" cy="576.2" r="3.5" fill="#d4202a"/>
<text x="417.4" y="579.9" font-family="'Liberation Sans', Arial, sans-serif" font-size="11" font-weight="bold" fill="#231f20" textLength="26.7" lengthAdjust="spacingAndGlyphs" stroke="#231f20" stroke-width="0.3">55.961</text>
<text x="504.8" y="555.0" font-family="'Liberation Sans', Arial, sans-serif" font-size="10.2" fill="#58595b" text-anchor="middle" textLength="20.4" lengthAdjust="spacingAndGlyphs">26/07</text>
<circle cx="483.9" cy="565.6" r="3.5" fill="#f4a11f"/>
<text x="490.2" y="569.3" font-family="'Liberation Sans', Arial, sans-serif" font-size="11" font-weight="bold" fill="#231f20" textLength="39.0" lengthAdjust="spacingAndGlyphs" stroke="#231f20" stroke-width="0.3">2.419.901</text>
<circle cx="490.1" cy="576.2" r="3.5" fill="#d4202a"/>
<text x="496.4" y="579.9" font-family="'Liberation Sans', Arial, sans-serif" font-size="11" font-weight="bold" fill="#231f20" textLength="26.7" lengthAdjust="spacingAndGlyphs" stroke="#231f20" stroke-width="0.3">87.004</text>
<text x="589.5" y="555.0" font-family="'Liberation Sans', Arial, sans-serif" font-size="10.2" fill="#58595b" text-anchor="middle" textLength="20.4" lengthAdjust="spacingAndGlyphs">26/08</text>
<circle cx="568.6" cy="565.6" r="3.5" fill="#f4a11f"/>
<text x="574.9" y="569.3" font-family="'Liberation Sans', Arial, sans-serif" font-size="11" font-weight="bold" fill="#231f20" textLength="39.0" lengthAdjust="spacingAndGlyphs" stroke="#231f20" stroke-width="0.3">3.717.156</text>
<circle cx="572.4" cy="576.2" r="3.5" fill="#d4202a"/>
<text x="578.7" y="579.9" font-family="'Liberation Sans', Arial, sans-serif" font-size="11" font-weight="bold" fill="#231f20" textLength="31.4" lengthAdjust="spacingAndGlyphs" stroke="#231f20" stroke-width="0.3">117.665</text>
<text x="676.2" y="555.0" font-family="'Liberation Sans', Arial, sans-serif" font-size="10.2" fill="#58595b" text-anchor="middle" textLength="20.4" lengthAdjust="spacingAndGlyphs">27/09</text>
<circle cx="655.3" cy="565.6" r="3.5" fill="#f4a11f"/>
<text x="661.6" y="569.3" font-family="'Liberation Sans', Arial, sans-serif" font-size="11" font-weight="bold" fill="#231f20" textLength="39.0" lengthAdjust="spacingAndGlyphs" stroke="#231f20" stroke-width="0.3">4.732.309</text>
<circle cx="659.1" cy="576.2" r="3.5" fill="#d4202a"/>
<text x="665.4" y="579.9" font-family="'Liberation Sans', Arial, sans-serif" font-size="11" font-weight="bold" fill="#231f20" textLength="31.4" lengthAdjust="spacingAndGlyphs" stroke="#231f20" stroke-width="0.3">141.741</text>
<text x="762.9" y="555.0" font-family="'Liberation Sans', Arial, sans-serif" font-size="10.2" fill="#58595b" text-anchor="middle" textLength="20.4" lengthAdjust="spacingAndGlyphs">04/10</text>
<circle cx="742.0" cy="565.6" r="3.5" fill="#f4a11f"/>
<text x="748.3" y="569.3" font-family="'Liberation Sans', Arial, sans-serif" font-size="11" font-weight="bold" fill="#231f20" textLength="39.0" lengthAdjust="spacingAndGlyphs" stroke="#231f20" stroke-width="0.3">4.915.289</text>
<circle cx="745.7" cy="576.2" r="3.5" fill="#d4202a"/>
<text x="752.0" y="579.9" font-family="'Liberation Sans', Arial, sans-serif" font-size="11" font-weight="bold" fill="#231f20" textLength="31.4" lengthAdjust="spacingAndGlyphs" stroke="#231f20" stroke-width="0.3">146.352</text>
<defs>
<linearGradient id="gHeart" x1="0" y1="620" x2="0" y2="1130" gradientUnits="userSpaceOnUse">
<stop offset="0" stop-color="#ec9394"/><stop offset="0.45" stop-color="#e47879"/><stop offset="1" stop-color="#da5f5e"/>
</linearGradient>
<linearGradient id="gGreen" x1="30" y1="0" x2="818" y2="0" gradientUnits="userSpaceOnUse">
<stop offset="0" stop-color="#1d5325"/><stop offset="0.44" stop-color="#275b2c"/><stop offset="0.54" stop-color="#3e6d44"/>
<stop offset="0.64" stop-color="#4b7b4d"/><stop offset="1" stop-color="#62895f"/>
</linearGradient>
<linearGradient id="gCross" x1="0" y1="0" x2="0" y2="1">
<stop offset="0" stop-color="#f1f1f1"/><stop offset="1" stop-color="#e6e6e6"/>
</linearGradient>
<linearGradient id="gMap" x1="0" y1="1048" x2="0" y2="1118" gradientUnits="userSpaceOnUse">
<stop offset="0" stop-color="#2f6e4f"/><stop offset="0.55" stop-color="#3f8063"/><stop offset="1" stop-color="#ffffff"/>
</linearGradient>
<filter id="fBlur2" x="-20%" y="-20%" width="140%" height="140%"><feGaussianBlur stdDeviation="2"/></filter>
<filter id="fBlur4" x="-20%" y="-20%" width="140%" height="140%"><feGaussianBlur stdDeviation="4"/></filter>
<filter id="fBlur1" x="-20%" y="-20%" width="140%" height="140%"><feGaussianBlur stdDeviation="1"/></filter>
<clipPath id="cpAd"><rect x="30" y="600" width="788" height="565.5"/></clipPath>
<clipPath id="cpHeart"><path d="M 660 1116 L 449.5 889 C 415 852 408.5 815 408.5 775 C 408.5 695 475 622 553 622 C 590 622 630 632 660 668 C 690 632 730 622 767 622 C 845 622 911.5 695 911.5 775 C 911.5 815 905 852 870.5 889 Z"/></clipPath>
<clipPath id="cpAboveGreen4"><path d="M 20.0 1000.5 C 21.7 1001.0 23.8 1001.6 30.4 1003.5 C 37.0 1005.4 44.7 1007.7 59.6 1012.0 C 74.5 1016.3 98.3 1023.3 120.0 1029.5 C 141.7 1035.7 166.7 1044.0 190.0 1049.0 C 213.3 1054.0 236.7 1056.3 260.0 1059.5 C 283.3 1062.7 306.7 1065.3 330.0 1068.0 C 353.3 1070.7 375.0 1073.4 400.0 1075.5 C 425.0 1077.6 453.3 1079.7 480.0 1080.5 C 506.7 1081.3 533.3 1081.5 560.0 1080.5 C 586.7 1079.5 615.5 1077.0 640.0 1074.5 C 664.5 1072.0 687.0 1068.5 707.0 1065.5 C 727.0 1062.5 741.5 1060.0 760.0 1056.5 C 778.5 1053.0 806.3 1046.7 818.0 1044.2 C 829.7 1041.7 828.0 1042.0 830.0 1041.5 L 830 600 L 20 600 Z"/></clipPath>
<clipPath id="cpAboveGreen"><path d="M 20.0 1002.0 C 21.7 1002.5 23.8 1003.1 30.4 1005.0 C 37.0 1006.9 44.7 1009.2 59.6 1013.5 C 74.5 1017.8 98.3 1024.8 120.0 1031.0 C 141.7 1037.2 166.7 1045.5 190.0 1050.5 C 213.3 1055.5 236.7 1057.8 260.0 1061.0 C 283.3 1064.2 306.7 1066.8 330.0 1069.5 C 353.3 1072.2 375.0 1074.9 400.0 1077.0 C 425.0 1079.1 453.3 1081.2 480.0 1082.0 C 506.7 1082.8 533.3 1083.0 560.0 1082.0 C 586.7 1081.0 615.5 1078.5 640.0 1076.0 C 664.5 1073.5 687.0 1070.0 707.0 1067.0 C 727.0 1064.0 741.5 1061.5 760.0 1058.0 C 778.5 1054.5 806.3 1048.2 818.0 1045.7 C 829.7 1043.2 828.0 1043.5 830.0 1043.0 L 830 600 L 20 600 Z"/></clipPath>
</defs>
<g clip-path="url(#cpAd)">
<g clip-path="url(#cpAboveGreen4)">
<path d="M 660 1116 L 449.5 889 C 415 852 408.5 815 408.5 775 C 408.5 695 475 622 553 622 C 590 622 630 632 660 668 C 690 632 730 622 767 622 C 845 622 911.5 695 911.5 775 C 911.5 815 905 852 870.5 889 Z" fill="url(#gHeart)"/>
<g clip-path="url(#cpHeart)"><path d="M 660 1116 L 449.5 889 C 415 852 408.5 815 408.5 775 C 408.5 695 475 622 553 622 C 590 622 630 632 660 668 C 690 632 730 622 767 622 C 845 622 911.5 695 911.5 775 C 911.5 815 905 852 870.5 889 Z" fill="none" stroke="#c9484c" stroke-opacity="0.25" stroke-width="8" filter="url(#fBlur2)"/><path d="M 660 1116 L 449.5 889 C 415 852 408.5 815 408.5 775 C 408.5 695 475 622 553 622 C 590 622 630 632 660 668 C 690 632 730 622 767 622 C 845 622 911.5 695 911.5 775 C 911.5 815 905 852 870.5 889 Z" fill="none" stroke="#f2b4b4" stroke-opacity="0.8" stroke-width="3"/>
<path d="M 400 851 L 488 851 L 507 800 L 530 940 L 546 851 L 596 851 L 614 800 L 620 940 L 632 851 L 688 851 L 705 800 L 716 940 L 728 851 L 780 851 L 797 800 L 804 940 L 813 851 L 840 851" fill="none" stroke="#f2a4a4" stroke-opacity="0.75" stroke-width="7.5" stroke-linejoin="round" stroke-linecap="round"/>
<path d="M 400 851 L 488 851 L 507 800 L 530 940 L 546 851 L 596 851 L 614 800 L 620 940 L 632 851 L 688 851 L 705 800 L 716 940 L 728 851 L 780 851 L 797 800 L 804 940 L 813 851 L 840 851" fill="none" stroke="url(#gHeart)" stroke-width="5.5" stroke-linejoin="round" stroke-linecap="round"/>
<path d="M 440 849 L 488 849 L 507 800" fill="none" stroke="#d2474e" stroke-opacity="0.55" stroke-width="6.5" stroke-linejoin="round" stroke-linecap="round" filter="url(#fBlur1)"/>
<path d="M 590 849 L 596 849 L 614 800" fill="none" stroke="#d2474e" stroke-opacity="0.55" stroke-width="6.5" stroke-linejoin="round" stroke-linecap="round" filter="url(#fBlur1)"/>
<path d="M 680 849 L 688 849 L 705 800" fill="none" stroke="#d2474e" stroke-opacity="0.55" stroke-width="6.5" stroke-linejoin="round" stroke-linecap="round" filter="url(#fBlur1)"/>
<path d="M 774 849 L 780 849 L 797 800" fill="none" stroke="#d2474e" stroke-opacity="0.55" stroke-width="6.5" stroke-linejoin="round" stroke-linecap="round" filter="url(#fBlur1)"/>
</g>
<g filter="url(#fBlur4)" fill="#a8363c" fill-opacity="0.55"><rect x="640" y="737" width="48" height="234" rx="7"/><rect x="553" y="830" width="221" height="49" rx="7"/></g>
</g>
<g fill="#c4c4c4"><rect x="637.5" y="732.8" width="47" height="234.5" rx="7"/><rect x="550.5" y="826.3" width="221" height="49" rx="7"/></g>
<g fill="#ebebeb"><rect x="637.5" y="731" width="47" height="234.5" rx="7"/><rect x="550.5" y="824.5" width="221" height="49" rx="7"/></g>
<g fill="none" stroke="#f7f7f7" stroke-width="1.2"><path d="M 641 732.5 L 681 732.5"/><path d="M 554 826 L 637 826"/><path d="M 685 826 L 768 826"/></g>
<g clip-path="url(#cpAboveGreen)"><path d="M 20.0 1003.0 C 21.7 1003.5 23.8 1004.1 30.4 1006.0 C 37.0 1007.9 44.7 1010.2 59.6 1014.5 C 74.5 1018.8 98.3 1025.8 120.0 1032.0 C 141.7 1038.2 166.7 1046.5 190.0 1051.5 C 213.3 1056.5 236.7 1058.8 260.0 1062.0 C 283.3 1065.2 306.7 1067.8 330.0 1070.5 C 353.3 1073.2 375.0 1075.9 400.0 1078.0 C 425.0 1080.1 453.3 1082.2 480.0 1083.0 C 506.7 1083.8 533.3 1084.0 560.0 1083.0 C 586.7 1082.0 615.5 1079.5 640.0 1077.0 C 664.5 1074.5 687.0 1071.0 707.0 1068.0 C 727.0 1065.0 741.5 1062.5 760.0 1059.0 C 778.5 1055.5 806.3 1049.2 818.0 1046.7 C 829.7 1044.2 828.0 1044.5 830.0 1044.0" fill="none" stroke="#8a8a8a" stroke-opacity="0.75" stroke-width="9" filter="url(#fBlur2)"/></g>
<g clip-path="url(#cpHeart)"><path d="M 20.0 1001.0 C 21.7 1001.5 23.8 1002.1 30.4 1004.0 C 37.0 1005.9 44.7 1008.2 59.6 1012.5 C 74.5 1016.8 98.3 1023.8 120.0 1030.0 C 141.7 1036.2 166.7 1044.5 190.0 1049.5 C 213.3 1054.5 236.7 1056.8 260.0 1060.0 C 283.3 1063.2 306.7 1065.8 330.0 1068.5 C 353.3 1071.2 375.0 1073.9 400.0 1076.0 C 425.0 1078.1 453.3 1080.2 480.0 1081.0 C 506.7 1081.8 533.3 1082.0 560.0 1081.0 C 586.7 1080.0 615.5 1077.5 640.0 1075.0 C 664.5 1072.5 687.0 1069.0 707.0 1066.0 C 727.0 1063.0 741.5 1060.5 760.0 1057.0 C 778.5 1053.5 806.3 1047.2 818.0 1044.7 C 829.7 1042.2 828.0 1042.5 830.0 1042.0" fill="none" stroke="#9c2f35" stroke-opacity="0.7" stroke-width="3" filter="url(#fBlur1)"/></g>
<path d="M 20.0 1002.0 C 21.7 1002.5 23.8 1003.1 30.4 1005.0 C 37.0 1006.9 44.7 1009.2 59.6 1013.5 C 74.5 1017.8 98.3 1024.8 120.0 1031.0 C 141.7 1037.2 166.7 1045.5 190.0 1050.5 C 213.3 1055.5 236.7 1057.8 260.0 1061.0 C 283.3 1064.2 306.7 1066.8 330.0 1069.5 C 353.3 1072.2 375.0 1074.9 400.0 1077.0 C 425.0 1079.1 453.3 1081.2 480.0 1082.0 C 506.7 1082.8 533.3 1083.0 560.0 1082.0 C 586.7 1081.0 615.5 1078.5 640.0 1076.0 C 664.5 1073.5 687.0 1070.0 707.0 1067.0 C 727.0 1064.0 741.5 1061.5 760.0 1058.0 C 778.5 1054.5 806.3 1048.2 818.0 1045.7 C 829.7 1043.2 828.0 1043.5 830.0 1043.0 L 830 1170 L 20 1170 Z" fill="url(#gGreen)"/>
</g>
<g transform="translate(440 1040) rotate(-5.2)">
<polygon points="-128.0,-17.6 -124.0,-16.5 -120.0,-16.9 -116.0,-18.6 -112.0,-18.7 -108.0,-18.5 -104.0,-17.3 -100.0,-18.4 -96.0,-16.5 -92.0,-16.7 -88.0,-15.3 -84.0,-15.7 -80.0,-18.3 -76.0,-17.7 -72.0,-18.1 -68.0,-16.5 -64.0,-16.8 -60.0,-18.6 -56.0,-16.4 -52.0,-17.7 -48.0,-17.2 -44.0,-15.9 -40.0,-17.9 -36.0,-16.9 -32.0,-16.2 -28.0,-15.3 -24.0,-17.3 -20.0,-18.3 -16.0,-18.7 -12.0,-16.0 -8.0,-15.6 -4.0,-16.3 0.0,-16.7 4.0,-15.8 8.0,-17.1 12.0,-18.6 16.0,-16.5 20.0,-15.8 24.0,-17.4 28.0,-18.7 32.0,-18.2 36.0,-18.6 40.0,-18.3 44.0,-17.4 48.0,-18.5 52.0,-16.8 56.0,-15.9 60.0,-17.8 64.0,-17.5 68.0,-15.4 72.0,-18.2 76.0,-18.0 80.0,-16.7 84.0,-18.8 88.0,-17.5 92.0,-15.4 96.0,-16.9 100.0,-16.4 104.0,-15.6 108.0,-15.7 112.0,-17.4 116.0,-18.4 120.0,-18.6 124.0,-18.0 128.0,-17.6 132.0,-18.8 136.0,-18.4 140.0,-18.7 144.0,-16.6 148.0,-17.9 158.0,-8.0 150.0,0.0 160.0,8.0 148.0,17.5 144.0,16.7 140.0,19.3 136.0,17.5 132.0,16.7 128.0,16.4 124.0,16.8 120.0,16.4 116.0,18.5 112.0,17.6 108.0,19.1 104.0,19.0 100.0,16.4 96.0,18.4 92.0,18.7 88.0,18.2 84.0,17.7 80.0,17.1 76.0,17.9 72.0,17.0 68.0,16.7 64.0,19.4 60.0,17.7 56.0,19.3 52.0,19.4 48.0,17.8 44.0,19.3 40.0,17.1 36.0,19.0 32.0,16.6 28.0,17.9 24.0,18.6 20.0,17.2 16.0,19.8 12.0,18.7 8.0,18.6 4.0,19.6 0.0,17.8 -4.0,18.3 -8.0,17.3 -12.0,18.3 -16.0,18.6 -20.0,18.0 -24.0,18.9 -28.0,16.6 -32.0,17.2 -36.0,19.4 -40.0,18.3 -44.0,18.7 -48.0,17.3 -52.0,18.3 -56.0,17.7 -60.0,16.9 -64.0,16.4 -68.0,17.5 -72.0,18.3 -76.0,19.1 -80.0,16.6 -84.0,17.2 -88.0,16.4 -92.0,17.6 -96.0,19.6 -100.0,17.0 -104.0,19.2 -108.0,16.5 -112.0,17.8 -116.0,18.0 -120.0,17.5 -124.0,16.5 -128.0,16.7 -136.0,10.0 -128.0,4.0 -140.0,-4.0 -130.0,-10.0" fill="#1f4e25"/>
<line x1="-193.9" y1="-3.3" x2="-114.5" y2="-2.4" stroke="#1f4e25" stroke-width="1.6" stroke-opacity="0.79" stroke-linecap="round"/>
<line x1="-194.9" y1="-12.3" x2="-129.7" y2="-12.7" stroke="#1f4e25" stroke-width="2.3" stroke-opacity="0.66" stroke-linecap="round"/>
<line x1="-152.5" y1="-14.3" x2="-124.2" y2="-15.0" stroke="#1f4e25" stroke-width="1.8" stroke-opacity="0.61" stroke-linecap="round"/>
<line x1="-151.1" y1="1.9" x2="-114.1" y2="2.3" stroke="#1f4e25" stroke-width="1.3" stroke-opacity="0.75" stroke-linecap="round"/>
<line x1="-161.4" y1="-9.7" x2="-124.0" y2="-9.1" stroke="#1f4e25" stroke-width="1.4" stroke-opacity="0.69" stroke-linecap="round"/>
<line x1="-150.8" y1="11.0" x2="-114.4" y2="11.6" stroke="#1f4e25" stroke-width="2.3" stroke-opacity="0.90" stroke-linecap="round"/>
<line x1="-174.1" y1="-7.7" x2="-129.3" y2="-8.7" stroke="#1f4e25" stroke-width="0.9" stroke-opacity="0.71" stroke-linecap="round"/>
<line x1="-165.4" y1="-6.7" x2="-111.3" y2="-6.8" stroke="#1f4e25" stroke-width="2.5" stroke-opacity="1.00" stroke-linecap="round"/>
<line x1="-181.8" y1="15.6" x2="-133.4" y2="15.0" stroke="#1f4e25" stroke-width="1.2" stroke-opacity="0.68" stroke-linecap="round"/>
<line x1="-155.0" y1="5.0" x2="-114.8" y2="4.9" stroke="#1f4e25" stroke-width="2.0" stroke-opacity="0.92" stroke-linecap="round"/>
<line x1="-167.0" y1="-12.3" x2="-112.7" y2="-11.7" stroke="#1f4e25" stroke-width="2.2" stroke-opacity="0.79" stroke-linecap="round"/>
<line x1="-160.5" y1="-9.3" x2="-130.0" y2="-8.7" stroke="#1f4e25" stroke-width="2.5" stroke-opacity="0.76" stroke-linecap="round"/>
<line x1="-152.7" y1="-2.2" x2="-118.3" y2="-2.8" stroke="#1f4e25" stroke-width="1.0" stroke-opacity="0.66" stroke-linecap="round"/>
<line x1="-159.7" y1="14.0" x2="-135.6" y2="14.6" stroke="#1f4e25" stroke-width="2.6" stroke-opacity="0.86" stroke-linecap="round"/>
<line x1="-172.6" y1="-3.8" x2="-136.1" y2="-4.8" stroke="#1f4e25" stroke-width="2.5" stroke-opacity="0.86" stroke-linecap="round"/>
<line x1="-153.3" y1="1.9" x2="-127.0" y2="2.6" stroke="#1f4e25" stroke-width="2.3" stroke-opacity="0.68" stroke-linecap="round"/>
<line x1="-185.4" y1="-6.9" x2="-132.8" y2="-6.8" stroke="#1f4e25" stroke-width="1.3" stroke-opacity="0.77" stroke-linecap="round"/>
<line x1="-154.5" y1="-10.8" x2="-129.4" y2="-10.9" stroke="#1f4e25" stroke-width="1.9" stroke-opacity="0.96" stroke-linecap="round"/>
<line x1="-154.1" y1="-1.5" x2="-125.0" y2="-1.5" stroke="#1f4e25" stroke-width="1.7" stroke-opacity="0.61" stroke-linecap="round"/>
<line x1="-190.8" y1="-0.9" x2="-139.9" y2="-0.3" stroke="#1f4e25" stroke-width="1.1" stroke-opacity="0.79" stroke-linecap="round"/>
<line x1="-172.2" y1="8.2" x2="-130.2" y2="8.2" stroke="#1f4e25" stroke-width="1.8" stroke-opacity="0.91" stroke-linecap="round"/>
<line x1="-172.0" y1="-11.6" x2="-132.5" y2="-12.1" stroke="#1f4e25" stroke-width="2.2" stroke-opacity="0.80" stroke-linecap="round"/>
<line x1="-162.0" y1="3.0" x2="-112.6" y2="2.9" stroke="#1f4e25" stroke-width="1.9" stroke-opacity="0.80" stroke-linecap="round"/>
<line x1="-165.4" y1="1.4" x2="-126.4" y2="1.5" stroke="#1f4e25" stroke-width="1.7" stroke-opacity="0.98" stroke-linecap="round"/>
<line x1="-156.2" y1="7.4" x2="-111.7" y2="6.9" stroke="#1f4e25" stroke-width="1.8" stroke-opacity="0.98" stroke-linecap="round"/>
<line x1="-193.1" y1="11.9" x2="-136.4" y2="11.8" stroke="#1f4e25" stroke-width="0.9" stroke-opacity="0.70" stroke-linecap="round"/>
<line x1="153.4" y1="-14.0" x2="180.7" y2="-13.2" stroke="#1f4e25" stroke-width="1.1" stroke-opacity="0.89" stroke-linecap="round"/>
<line x1="142.9" y1="2.5" x2="182.7" y2="3.4" stroke="#1f4e25" stroke-width="1.2" stroke-opacity="0.98" stroke-linecap="round"/>
<line x1="149.7" y1="-4.8" x2="184.8" y2="-4.2" stroke="#1f4e25" stroke-width="1.1" stroke-opacity="0.77" stroke-linecap="round"/>
<line x1="146.8" y1="-1.6" x2="168.9" y2="-1.9" stroke="#1f4e25" stroke-width="2.1" stroke-opacity="0.61" stroke-linecap="round"/>
<line x1="148.8" y1="-0.5" x2="165.4" y2="-0.8" stroke="#1f4e25" stroke-width="1.9" stroke-opacity="0.80" stroke-linecap="round"/>
<line x1="159.7" y1="-14.2" x2="180.8" y2="-13.3" stroke="#1f4e25" stroke-width="1.0" stroke-opacity="0.71" stroke-linecap="round"/>
<line x1="155.6" y1="-14.9" x2="170.4" y2="-15.6" stroke="#1f4e25" stroke-width="1.6" stroke-opacity="0.96" stroke-linecap="round"/>
<line x1="145.2" y1="6.9" x2="168.0" y2="7.8" stroke="#1f4e25" stroke-width="1.8" stroke-opacity="0.88" stroke-linecap="round"/>
<line x1="141.2" y1="-13.5" x2="178.8" y2="-13.6" stroke="#1f4e25" stroke-width="0.9" stroke-opacity="0.98" stroke-linecap="round"/>
<line x1="156.0" y1="1.8" x2="166.7" y2="2.5" stroke="#1f4e25" stroke-width="0.9" stroke-opacity="0.95" stroke-linecap="round"/>
<line x1="146.8" y1="-3.3" x2="176.1" y2="-2.4" stroke="#1f4e25" stroke-width="1.3" stroke-opacity="0.65" stroke-linecap="round"/>
<line x1="144.8" y1="-1.2" x2="167.2" y2="-1.9" stroke="#1f4e25" stroke-width="0.9" stroke-opacity="0.68" stroke-linecap="round"/>
<line x1="146.1" y1="-7.3" x2="180.2" y2="-7.7" stroke="#1f4e25" stroke-width="1.7" stroke-opacity="0.67" stroke-linecap="round"/>
<line x1="140.4" y1="-6.3" x2="170.0" y2="-7.3" stroke="#1f4e25" stroke-width="2.1" stroke-opacity="0.82" stroke-linecap="round"/>
<line x1="149.5" y1="-10.7" x2="183.7" y2="-11.5" stroke="#1f4e25" stroke-width="2.3" stroke-opacity="0.77" stroke-linecap="round"/>
<line x1="156.7" y1="-2.1" x2="172.9" y2="-2.1" stroke="#1f4e25" stroke-width="2.0" stroke-opacity="0.99" stroke-linecap="round"/>
<line x1="156.6" y1="-6.4" x2="179.1" y2="-6.1" stroke="#1f4e25" stroke-width="1.5" stroke-opacity="0.74" stroke-linecap="round"/>
<line x1="142.6" y1="-14.5" x2="166.4" y2="-14.0" stroke="#1f4e25" stroke-width="1.3" stroke-opacity="0.67" stroke-linecap="round"/>
<line x1="156.8" y1="-13.6" x2="182.4" y2="-13.3" stroke="#1f4e25" stroke-width="1.3" stroke-opacity="0.70" stroke-linecap="round"/>
<line x1="149.2" y1="-7.8" x2="168.2" y2="-7.9" stroke="#1f4e25" stroke-width="1.3" stroke-opacity="0.98" stroke-linecap="round"/>
<line x1="150.9" y1="11.2" x2="169.9" y2="12.2" stroke="#1f4e25" stroke-width="1.4" stroke-opacity="0.74" stroke-linecap="round"/>
<line x1="147.6" y1="-16.0" x2="174.5" y2="-16.0" stroke="#1f4e25" stroke-width="1.2" stroke-opacity="0.80" stroke-linecap="round"/>
<line x1="150" y1="-3" x2="186" y2="-4" stroke="#1f4e25" stroke-width="2.5" stroke-linecap="round"/>
<line x1="140" y1="-15" x2="158" y2="-17" stroke="#1f4e25" stroke-width="3" stroke-linecap="round"/>
</g>
<text transform="translate(321 1062.5) rotate(-5.5)" x="0" y="0" font-family="'Liberation Serif', 'Times New Roman', serif" font-size="27" font-style="italic" fill="#fff" stroke="#fff" stroke-width="0.5" textLength="226" lengthAdjust="spacingAndGlyphs">contem com o sinseb!</text>
<text x="197.0" y="1100.2" font-family="'Liberation Sans', Arial, sans-serif" font-size="30" font-style="italic" fill="#f5f5ee" textLength="72.5" lengthAdjust="spacingAndGlyphs" stroke="#f5f5ee" stroke-width="0.7">FORTE</text>
<text x="191.5" y="1126.5" font-family="'Liberation Sans', Arial, sans-serif" font-size="28.6" font-style="italic" fill="#f5f5ee" textLength="88.5" lengthAdjust="spacingAndGlyphs" stroke="#f5f5ee" stroke-width="0.7">ATUANTE</text>
<text x="187.5" y="1157.0" font-family="'Liberation Sans', Arial, sans-serif" font-size="25" font-style="italic" fill="#f5f5ee" textLength="142.5" lengthAdjust="spacingAndGlyphs" stroke="#f5f5ee" stroke-width="0.7">INDEPENDENTE</text>
<ellipse cx="111.5" cy="1084" rx="79.5" ry="81" fill="#000" fill-opacity="0.55" filter="url(#fBlur4)"/>
<ellipse cx="114.6" cy="1080.5" rx="78.5" ry="80.5" fill="#fdfdfd"/>
<polygon points="175.0,1076.5 175.2,1076.9 175.4,1077.2 175.6,1077.6 175.8,1077.9 176.0,1078.3 176.2,1078.7 176.4,1079.0 176.5,1079.4 176.7,1079.8 176.8,1080.1 176.9,1080.5 177.1,1080.9 177.2,1081.2 177.2,1081.6 177.3,1082.0 177.3,1082.4 177.4,1082.7 177.4,1083.1 177.4,1083.5 177.4,1083.8 177.3,1084.2 177.3,1084.6 177.2,1084.9 177.1,1085.3 177.0,1085.7 176.9,1086.0 176.7,1086.4 176.6,1086.7 176.4,1087.0 176.2,1087.4 176.0,1087.7 175.8,1088.0 175.5,1088.4 175.3,1088.7 175.1,1089.0 174.8,1089.3 174.5,1089.6 174.2,1089.9 174.0,1090.2 173.7,1090.5 173.4,1090.8 173.1,1091.1 172.8,1091.4 172.5,1091.7 172.2,1092.0 172.0,1092.3 171.7,1092.5 171.4,1092.8 171.1,1093.1 170.9,1093.4 170.6,1093.7 170.4,1093.9 170.1,1094.2 169.9,1094.5 169.7,1094.8 169.5,1095.1 169.3,1095.4 169.1,1095.7 168.9,1095.9 168.8,1096.2 168.6,1096.6 168.5,1096.9 168.4,1097.2 168.3,1097.5 168.2,1097.8 168.1,1098.2 168.0,1098.5 168.0,1098.8 167.9,1099.2 167.9,1099.5 167.9,1099.9 167.9,1100.3 167.9,1100.6 167.9,1101.0 167.9,1101.4 167.9,1101.8 167.9,1102.2 167.9,1102.6 168.0,1103.0 168.0,1103.4 168.0,1103.8 168.0,1104.2 168.1,1104.6 168.1,1105.0 168.1,1105.4 168.1,1105.8 168.1,1106.2 168.1,1106.6 168.1,1107.0 168.1,1107.5 168.1,1107.9 168.0,1108.2 168.0,1108.6 167.9,1109.0 167.9,1109.4 167.8,1109.8 167.7,1110.2 167.6,1110.5 167.4,1110.9 167.3,1111.2 167.1,1111.6 167.0,1111.9 166.8,1112.2 166.6,1112.5 166.3,1112.8 166.1,1113.1 165.9,1113.4 165.6,1113.6 165.3,1113.9 165.0,1114.1 164.7,1114.4 164.4,1114.6 164.1,1114.8 163.8,1115.0 163.4,1115.2 163.1,1115.4 162.7,1115.5 162.3,1115.7 162.0,1115.9 161.6,1116.0 161.2,1116.1 160.8,1116.3 160.4,1116.4 160.0,1116.5 159.6,1116.7 159.2,1116.8 158.9,1116.9 158.5,1117.0 158.1,1117.1 157.7,1117.3 157.3,1117.4 157.0,1117.5 156.6,1117.6 156.2,1117.7 155.9,1117.9 155.5,1118.0 155.2,1118.2 154.9,1118.3 154.6,1118.5 154.3,1118.6 154.0,1118.8 153.7,1119.0 153.4,1119.2 153.1,1119.4 152.9,1119.6 152.6,1119.8 152.4,1120.1 152.1,1120.3 151.9,1120.6 151.7,1120.8 151.5,1121.1 151.3,1121.4 151.1,1121.7 150.9,1122.0 150.7,1122.3 150.6,1122.6 150.4,1123.0 150.2,1123.3 150.0,1123.7 149.9,1124.0 149.7,1124.4 149.6,1124.7 149.4,1125.1 149.2,1125.5 149.1,1125.9 148.9,1126.2 148.7,1126.6 148.5,1127.0 148.4,1127.4 148.2,1127.7 148.0,1128.1 147.8,1128.4 147.6,1128.8 147.4,1129.1 147.2,1129.5 146.9,1129.8 146.7,1130.1 146.5,1130.4 146.2,1130.7 146.0,1131.0 145.7,1131.3 145.4,1131.5 145.1,1131.8 144.8,1132.0 144.5,1132.2 144.2,1132.4 143.9,1132.6 143.6,1132.7 143.2,1132.9 142.9,1133.0 142.5,1133.1 142.2,1133.2 141.8,1133.3 141.4,1133.4 141.0,1133.4 140.7,1133.4 140.3,1133.5 139.9,1133.5 139.5,1133.5 139.1,1133.5 138.7,1133.4 138.3,1133.4 137.9,1133.4 137.5,1133.3 137.0,1133.3 136.6,1133.2 136.2,1133.1 135.8,1133.0 135.4,1133.0 135.0,1132.9 134.6,1132.8 134.2,1132.7 133.8,1132.7 133.5,1132.6 133.1,1132.5 132.7,1132.5 132.3,1132.4 131.9,1132.4 131.6,1132.3 131.2,1132.3 130.8,1132.3 130.5,1132.3 130.1,1132.3 129.8,1132.3 129.5,1132.3 129.1,1132.4 128.8,1132.4 128.5,1132.5 128.1,1132.6 127.8,1132.7 127.5,1132.8 127.2,1132.9 126.9,1133.0 126.5,1133.2 126.2,1133.3 125.9,1133.5 125.6,1133.7 125.3,1133.9 125.0,1134.1 124.7,1134.3 124.4,1134.5 124.1,1134.8 123.8,1135.0 123.5,1135.2 123.1,1135.5 122.8,1135.7 122.5,1136.0 122.2,1136.2 121.9,1136.5 121.5,1136.8 121.2,1137.0 120.9,1137.2 120.6,1137.5 120.2,1137.7 119.9,1137.9 119.5,1138.2 119.2,1138.4 118.8,1138.6 118.5,1138.8 118.1,1138.9 117.8,1139.1 117.4,1139.2 117.1,1139.4 116.7,1139.5 116.3,1139.6 116.0,1139.7 115.6,1139.7 115.2,1139.8 114.9,1139.8 114.5,1139.8 114.1,1139.8 113.8,1139.8 113.4,1139.7 113.0,1139.7 112.7,1139.6 112.3,1139.5 111.9,1139.4 111.6,1139.2 111.2,1139.1 110.9,1138.9 110.5,1138.8 110.2,1138.6 109.8,1138.4 109.5,1138.2 109.1,1137.9 108.8,1137.7 108.4,1137.5 108.1,1137.2 107.8,1137.0 107.5,1136.8 107.1,1136.5 106.8,1136.2 106.5,1136.0 106.2,1135.7 105.9,1135.5 105.5,1135.2 105.2,1135.0 104.9,1134.8 104.6,1134.5 104.3,1134.3 104.0,1134.1 103.7,1133.9 103.4,1133.7 103.1,1133.5 102.8,1133.3 102.5,1133.2 102.1,1133.0 101.8,1132.9 101.5,1132.8 101.2,1132.7 100.9,1132.6 100.5,1132.5 100.2,1132.4 99.9,1132.4 99.5,1132.3 99.2,1132.3 98.9,1132.3 98.5,1132.3 98.2,1132.3 97.8,1132.3 97.4,1132.3 97.1,1132.4 96.7,1132.4 96.3,1132.5 95.9,1132.5 95.5,1132.6 95.2,1132.7 94.8,1132.7 94.4,1132.8 94.0,1132.9 93.6,1133.0 93.2,1133.0 92.8,1133.1 92.4,1133.2 92.0,1133.3 91.5,1133.3 91.1,1133.4 90.7,1133.4 90.3,1133.4 89.9,1133.5 89.5,1133.5 89.1,1133.5 88.7,1133.5 88.3,1133.4 88.0,1133.4 87.6,1133.4 87.2,1133.3 86.8,1133.2 86.5,1133.1 86.1,1133.0 85.8,1132.9 85.4,1132.7 85.1,1132.6 84.8,1132.4 84.5,1132.2 84.2,1132.0 83.9,1131.8 83.6,1131.5 83.3,1131.3 83.0,1131.0 82.8,1130.7 82.5,1130.4 82.3,1130.1 82.1,1129.8 81.8,1129.5 81.6,1129.1 81.4,1128.8 81.2,1128.4 81.0,1128.1 80.8,1127.7 80.6,1127.4 80.5,1127.0 80.3,1126.6 80.1,1126.2 79.9,1125.9 79.8,1125.5 79.6,1125.1 79.4,1124.7 79.3,1124.4 79.1,1124.0 79.0,1123.7 78.8,1123.3 78.6,1123.0 78.4,1122.6 78.3,1122.3 78.1,1122.0 77.9,1121.7 77.7,1121.4 77.5,1121.1 77.3,1120.8 77.1,1120.6 76.9,1120.3 76.6,1120.1 76.4,1119.8 76.1,1119.6 75.9,1119.4 75.6,1119.2 75.3,1119.0 75.0,1118.8 74.7,1118.6 74.4,1118.5 74.1,1118.3 73.8,1118.2 73.5,1118.0 73.1,1117.9 72.8,1117.7 72.4,1117.6 72.0,1117.5 71.7,1117.4 71.3,1117.3 70.9,1117.1 70.5,1117.0 70.1,1116.9 69.8,1116.8 69.4,1116.7 69.0,1116.5 68.6,1116.4 68.2,1116.3 67.8,1116.1 67.4,1116.0 67.0,1115.9 66.7,1115.7 66.3,1115.5 65.9,1115.4 65.6,1115.2 65.2,1115.0 64.9,1114.8 64.6,1114.6 64.3,1114.4 64.0,1114.1 63.7,1113.9 63.4,1113.6 63.1,1113.4 62.9,1113.1 62.7,1112.8 62.4,1112.5 62.2,1112.2 62.0,1111.9 61.9,1111.6 61.7,1111.2 61.6,1110.9 61.4,1110.5 61.3,1110.2 61.2,1109.8 61.1,1109.4 61.1,1109.0 61.0,1108.6 61.0,1108.2 60.9,1107.9 60.9,1107.5 60.9,1107.0 60.9,1106.6 60.9,1106.2 60.9,1105.8 60.9,1105.4 60.9,1105.0 60.9,1104.6 61.0,1104.2 61.0,1103.8 61.0,1103.4 61.0,1103.0 61.1,1102.6 61.1,1102.2 61.1,1101.8 61.1,1101.4 61.1,1101.0 61.1,1100.6 61.1,1100.3 61.1,1099.9 61.1,1099.5 61.1,1099.2 61.0,1098.8 61.0,1098.5 60.9,1098.2 60.8,1097.8 60.7,1097.5 60.6,1097.2 60.5,1096.9 60.4,1096.6 60.2,1096.2 60.1,1095.9 59.9,1095.7 59.7,1095.4 59.5,1095.1 59.3,1094.8 59.1,1094.5 58.9,1094.2 58.6,1093.9 58.4,1093.7 58.1,1093.4 57.9,1093.1 57.6,1092.8 57.3,1092.5 57.0,1092.3 56.8,1092.0 56.5,1091.7 56.2,1091.4 55.9,1091.1 55.6,1090.8 55.3,1090.5 55.0,1090.2 54.8,1089.9 54.5,1089.6 54.2,1089.3 53.9,1089.0 53.7,1088.7 53.5,1088.4 53.2,1088.0 53.0,1087.7 52.8,1087.4 52.6,1087.0 52.4,1086.7 52.3,1086.4 52.1,1086.0 52.0,1085.7 51.9,1085.3 51.8,1084.9 51.7,1084.6 51.7,1084.2 51.6,1083.8 51.6,1083.5 51.6,1083.1 51.6,1082.7 51.7,1082.4 51.7,1082.0 51.8,1081.6 51.8,1081.2 51.9,1080.9 52.1,1080.5 52.2,1080.1 52.3,1079.8 52.5,1079.4 52.6,1079.0 52.8,1078.7 53.0,1078.3 53.2,1077.9 53.4,1077.6 53.6,1077.2 53.8,1076.9 54.0,1076.5 54.2,1076.1 54.4,1075.8 54.6,1075.5 54.9,1075.1 55.1,1074.8 55.3,1074.4 55.5,1074.1 55.7,1073.8 55.8,1073.4 56.0,1073.1 56.2,1072.8 56.3,1072.4 56.5,1072.1 56.6,1071.8 56.8,1071.4 56.9,1071.1 57.0,1070.8 57.1,1070.5 57.1,1070.1 57.2,1069.8 57.2,1069.5 57.3,1069.1 57.3,1068.8 57.3,1068.5 57.3,1068.1 57.2,1067.8 57.2,1067.4 57.2,1067.1 57.1,1066.7 57.0,1066.4 57.0,1066.0 56.9,1065.6 56.8,1065.3 56.7,1064.9 56.6,1064.5 56.4,1064.2 56.3,1063.8 56.2,1063.4 56.1,1063.0 55.9,1062.6 55.8,1062.2 55.7,1061.8 55.6,1061.4 55.5,1061.1 55.4,1060.7 55.3,1060.3 55.2,1059.9 55.1,1059.5 55.0,1059.1 54.9,1058.7 54.9,1058.3 54.8,1057.9 54.8,1057.5 54.8,1057.1 54.8,1056.7 54.8,1056.3 54.9,1056.0 54.9,1055.6 55.0,1055.2 55.1,1054.9 55.2,1054.5 55.3,1054.2 55.4,1053.8 55.6,1053.5 55.7,1053.2 55.9,1052.8 56.1,1052.5 56.3,1052.2 56.6,1051.9 56.8,1051.6 57.1,1051.3 57.3,1051.0 57.6,1050.8 57.9,1050.5 58.2,1050.3 58.5,1050.0 58.9,1049.8 59.2,1049.5 59.5,1049.3 59.9,1049.1 60.2,1048.8 60.6,1048.6 60.9,1048.4 61.3,1048.2 61.6,1048.0 62.0,1047.8 62.3,1047.6 62.6,1047.4 63.0,1047.2 63.3,1047.0 63.6,1046.7 64.0,1046.5 64.3,1046.3 64.6,1046.1 64.9,1045.9 65.2,1045.7 65.4,1045.4 65.7,1045.2 66.0,1045.0 66.2,1044.7 66.4,1044.5 66.6,1044.2 66.8,1044.0 67.0,1043.7 67.2,1043.4 67.4,1043.1 67.6,1042.8 67.7,1042.5 67.8,1042.2 68.0,1041.9 68.1,1041.5 68.2,1041.2 68.3,1040.8 68.4,1040.5 68.5,1040.1 68.6,1039.8 68.7,1039.4 68.7,1039.0 68.8,1038.6 68.9,1038.2 69.0,1037.8 69.0,1037.4 69.1,1037.0 69.2,1036.6 69.2,1036.2 69.3,1035.8 69.4,1035.4 69.5,1035.0 69.6,1034.6 69.7,1034.2 69.8,1033.8 69.9,1033.4 70.0,1033.1 70.2,1032.7 70.3,1032.3 70.5,1032.0 70.6,1031.6 70.8,1031.3 71.0,1030.9 71.2,1030.6 71.4,1030.3 71.7,1030.0 71.9,1029.7 72.2,1029.5 72.4,1029.2 72.7,1029.0 73.0,1028.7 73.3,1028.5 73.6,1028.3 73.9,1028.1 74.3,1028.0 74.6,1027.8 74.9,1027.7 75.3,1027.5 75.7,1027.4 76.1,1027.3 76.4,1027.2 76.8,1027.1 77.2,1027.0 77.6,1027.0 78.0,1026.9 78.4,1026.9 78.8,1026.8 79.2,1026.8 79.7,1026.7 80.1,1026.7 80.5,1026.7 80.9,1026.7 81.3,1026.6 81.7,1026.6 82.1,1026.6 82.5,1026.6 82.9,1026.6 83.3,1026.5 83.7,1026.5 84.0,1026.4 84.4,1026.4 84.8,1026.3 85.1,1026.3 85.5,1026.2 85.8,1026.1 86.1,1026.0 86.5,1025.9 86.8,1025.8 87.1,1025.7 87.4,1025.5 87.7,1025.4 88.0,1025.2 88.3,1025.1 88.6,1024.9 88.8,1024.7 89.1,1024.5 89.4,1024.2 89.6,1024.0 89.9,1023.7 90.2,1023.5 90.4,1023.2 90.7,1022.9 90.9,1022.7 91.1,1022.4 91.4,1022.1 91.6,1021.8 91.9,1021.4 92.1,1021.1 92.4,1020.8 92.6,1020.5 92.9,1020.2 93.1,1019.8 93.4,1019.5 93.6,1019.2 93.9,1018.9 94.2,1018.6 94.4,1018.3 94.7,1018.0 95.0,1017.7 95.3,1017.4 95.6,1017.1 95.9,1016.9 96.2,1016.6 96.5,1016.4 96.8,1016.2 97.1,1016.0 97.5,1015.8 97.8,1015.6 98.1,1015.4 98.5,1015.3 98.8,1015.2 99.2,1015.1 99.5,1015.0 99.9,1014.9 100.3,1014.9 100.6,1014.8 101.0,1014.8 101.4,1014.8 101.8,1014.8 102.1,1014.9 102.5,1014.9 102.9,1015.0 103.3,1015.1 103.7,1015.1 104.1,1015.2 104.5,1015.4 104.8,1015.5 105.2,1015.6 105.6,1015.8 106.0,1015.9 106.4,1016.1 106.7,1016.2 107.1,1016.4 107.5,1016.6 107.9,1016.7 108.2,1016.9 108.6,1017.1 109.0,1017.2 109.3,1017.4 109.7,1017.6 110.0,1017.7 110.4,1017.9 110.8,1018.0 111.1,1018.1 111.4,1018.3 111.8,1018.4 112.1,1018.5 112.5,1018.6 112.8,1018.6 113.2,1018.7 113.5,1018.7 113.8,1018.8 114.2,1018.8 114.5,1018.8 114.8,1018.8 115.2,1018.8 115.5,1018.7 115.8,1018.7 116.2,1018.6 116.5,1018.6 116.9,1018.5 117.2,1018.4 117.6,1018.3 117.9,1018.1 118.2,1018.0 118.6,1017.9 119.0,1017.7 119.3,1017.6 119.7,1017.4 120.0,1017.2 120.4,1017.1 120.8,1016.9 121.1,1016.7 121.5,1016.6 121.9,1016.4 122.3,1016.2 122.6,1016.1 123.0,1015.9 123.4,1015.8 123.8,1015.6 124.2,1015.5 124.5,1015.4 124.9,1015.2 125.3,1015.1 125.7,1015.1 126.1,1015.0 126.5,1014.9 126.9,1014.9 127.2,1014.8 127.6,1014.8 128.0,1014.8 128.4,1014.8 128.7,1014.9 129.1,1014.9 129.5,1015.0 129.8,1015.1 130.2,1015.2 130.5,1015.3 130.9,1015.4 131.2,1015.6 131.5,1015.8 131.9,1016.0 132.2,1016.2 132.5,1016.4 132.8,1016.6 133.1,1016.9 133.4,1017.1 133.7,1017.4 134.0,1017.7 134.3,1018.0 134.6,1018.3 134.8,1018.6 135.1,1018.9 135.4,1019.2 135.6,1019.5 135.9,1019.8 136.1,1020.2 136.4,1020.5 136.6,1020.8 136.9,1021.1 137.1,1021.4 137.4,1021.8 137.6,1022.1 137.9,1022.4 138.1,1022.7 138.3,1022.9 138.6,1023.2 138.8,1023.5 139.1,1023.7 139.4,1024.0 139.6,1024.2 139.9,1024.5 140.2,1024.7 140.4,1024.9 140.7,1025.1 141.0,1025.2 141.3,1025.4 141.6,1025.5 141.9,1025.7 142.2,1025.8 142.5,1025.9 142.9,1026.0 143.2,1026.1 143.5,1026.2 143.9,1026.3 144.2,1026.3 144.6,1026.4 145.0,1026.4 145.3,1026.5 145.7,1026.5 146.1,1026.6 146.5,1026.6 146.9,1026.6 147.3,1026.6 147.7,1026.6 148.1,1026.7 148.5,1026.7 148.9,1026.7 149.3,1026.7 149.8,1026.8 150.2,1026.8 150.6,1026.9 151.0,1026.9 151.4,1027.0 151.8,1027.0 152.2,1027.1 152.6,1027.2 152.9,1027.3 153.3,1027.4 153.7,1027.5 154.1,1027.7 154.4,1027.8 154.7,1028.0 155.1,1028.1 155.4,1028.3 155.7,1028.5 156.0,1028.7 156.3,1029.0 156.6,1029.2 156.8,1029.5 157.1,1029.7 157.3,1030.0 157.6,1030.3 157.8,1030.6 158.0,1030.9 158.2,1031.3 158.4,1031.6 158.5,1032.0 158.7,1032.3 158.8,1032.7 159.0,1033.1 159.1,1033.4 159.2,1033.8 159.3,1034.2 159.4,1034.6 159.5,1035.0 159.6,1035.4 159.7,1035.8 159.8,1036.2 159.8,1036.6 159.9,1037.0 160.0,1037.4 160.0,1037.8 160.1,1038.2 160.2,1038.6 160.3,1039.0 160.3,1039.4 160.4,1039.8 160.5,1040.1 160.6,1040.5 160.7,1040.8 160.8,1041.2 160.9,1041.5 161.0,1041.9 161.2,1042.2 161.3,1042.5 161.4,1042.8 161.6,1043.1 161.8,1043.4 162.0,1043.7 162.2,1044.0 162.4,1044.2 162.6,1044.5 162.8,1044.7 163.0,1045.0 163.3,1045.2 163.6,1045.4 163.8,1045.7 164.1,1045.9 164.4,1046.1 164.7,1046.3 165.0,1046.5 165.4,1046.7 165.7,1047.0 166.0,1047.2 166.4,1047.4 166.7,1047.6 167.0,1047.8 167.4,1048.0 167.7,1048.2 168.1,1048.4 168.4,1048.6 168.8,1048.8 169.1,1049.1 169.5,1049.3 169.8,1049.5 170.1,1049.8 170.5,1050.0 170.8,1050.3 171.1,1050.5 171.4,1050.8 171.7,1051.0 171.9,1051.3 172.2,1051.6 172.4,1051.9 172.7,1052.2 172.9,1052.5 173.1,1052.8 173.3,1053.2 173.4,1053.5 173.6,1053.8 173.7,1054.2 173.8,1054.5 173.9,1054.9 174.0,1055.2 174.1,1055.6 174.1,1056.0 174.2,1056.3 174.2,1056.7 174.2,1057.1 174.2,1057.5 174.2,1057.9 174.1,1058.3 174.1,1058.7 174.0,1059.1 173.9,1059.5 173.8,1059.9 173.7,1060.3 173.6,1060.7 173.5,1061.1 173.4,1061.4 173.3,1061.8 173.2,1062.2 173.1,1062.6 172.9,1063.0 172.8,1063.4 172.7,1063.8 172.6,1064.2 172.4,1064.5 172.3,1064.9 172.2,1065.3 172.1,1065.6 172.0,1066.0 172.0,1066.4 171.9,1066.7 171.8,1067.1 171.8,1067.4 171.8,1067.8 171.7,1068.1 171.7,1068.5 171.7,1068.8 171.7,1069.1 171.8,1069.5 171.8,1069.8 171.9,1070.1 171.9,1070.5 172.0,1070.8 172.1,1071.1 172.2,1071.4 172.4,1071.8 172.5,1072.1 172.7,1072.4 172.8,1072.8 173.0,1073.1 173.2,1073.4 173.3,1073.8 173.5,1074.1 173.7,1074.4 173.9,1074.8 174.1,1075.1 174.4,1075.5 174.6,1075.8 174.8,1076.1 175.0,1076.5" fill="none" stroke="#3c6e5a" stroke-width="1.2"/>
<polygon points="175.0,1076.5 174.8,1076.9 174.6,1077.2 174.4,1077.5 174.1,1077.9 173.9,1078.2 173.7,1078.6 173.5,1078.9 173.3,1079.2 173.2,1079.6 173.0,1079.9 172.8,1080.2 172.7,1080.6 172.5,1080.9 172.4,1081.2 172.2,1081.6 172.1,1081.9 172.0,1082.2 171.9,1082.5 171.9,1082.9 171.8,1083.2 171.8,1083.5 171.7,1083.9 171.7,1084.2 171.7,1084.5 171.7,1084.9 171.8,1085.2 171.8,1085.6 171.8,1085.9 171.9,1086.3 172.0,1086.6 172.0,1087.0 172.1,1087.4 172.2,1087.7 172.3,1088.1 172.4,1088.5 172.6,1088.8 172.7,1089.2 172.8,1089.6 172.9,1090.0 173.1,1090.4 173.2,1090.8 173.3,1091.2 173.4,1091.6 173.5,1091.9 173.6,1092.3 173.7,1092.7 173.8,1093.1 173.9,1093.5 174.0,1093.9 174.1,1094.3 174.1,1094.7 174.2,1095.1 174.2,1095.5 174.2,1095.9 174.2,1096.3 174.2,1096.7 174.1,1097.0 174.1,1097.4 174.0,1097.8 173.9,1098.1 173.8,1098.5 173.7,1098.8 173.6,1099.2 173.4,1099.5 173.3,1099.8 173.1,1100.2 172.9,1100.5 172.7,1100.8 172.4,1101.1 172.2,1101.4 171.9,1101.7 171.7,1102.0 171.4,1102.2 171.1,1102.5 170.8,1102.7 170.5,1103.0 170.1,1103.2 169.8,1103.5 169.5,1103.7 169.1,1103.9 168.8,1104.2 168.4,1104.4 168.1,1104.6 167.7,1104.8 167.4,1105.0 167.0,1105.2 166.7,1105.4 166.4,1105.6 166.0,1105.8 165.7,1106.0 165.4,1106.3 165.0,1106.5 164.7,1106.7 164.4,1106.9 164.1,1107.1 163.8,1107.3 163.6,1107.6 163.3,1107.8 163.0,1108.0 162.8,1108.3 162.6,1108.5 162.4,1108.8 162.2,1109.0 162.0,1109.3 161.8,1109.6 161.6,1109.9 161.4,1110.2 161.3,1110.5 161.2,1110.8 161.0,1111.1 160.9,1111.5 160.8,1111.8 160.7,1112.2 160.6,1112.5 160.5,1112.9 160.4,1113.2 160.3,1113.6 160.3,1114.0 160.2,1114.4 160.1,1114.8 160.0,1115.2 160.0,1115.6 159.9,1116.0 159.8,1116.4 159.8,1116.8 159.7,1117.2 159.6,1117.6 159.5,1118.0 159.4,1118.4 159.3,1118.8 159.2,1119.2 159.1,1119.6 159.0,1119.9 158.8,1120.3 158.7,1120.7 158.5,1121.0 158.4,1121.4 158.2,1121.7 158.0,1122.1 157.8,1122.4 157.6,1122.7 157.3,1123.0 157.1,1123.3 156.8,1123.5 156.6,1123.8 156.3,1124.0 156.0,1124.3 155.7,1124.5 155.4,1124.7 155.1,1124.9 154.7,1125.0 154.4,1125.2 154.1,1125.3 153.7,1125.5 153.3,1125.6 152.9,1125.7 152.6,1125.8 152.2,1125.9 151.8,1126.0 151.4,1126.0 151.0,1126.1 150.6,1126.1 150.2,1126.2 149.8,1126.2 149.3,1126.3 148.9,1126.3 148.5,1126.3 148.1,1126.3 147.7,1126.4 147.3,1126.4 146.9,1126.4 146.5,1126.4 146.1,1126.4 145.7,1126.5 145.3,1126.5 145.0,1126.6 144.6,1126.6 144.2,1126.7 143.9,1126.7 143.5,1126.8 143.2,1126.9 142.9,1127.0 142.5,1127.1 142.2,1127.2 141.9,1127.3 141.6,1127.5 141.3,1127.6 141.0,1127.8 140.7,1127.9 140.4,1128.1 140.2,1128.3 139.9,1128.5 139.6,1128.8 139.4,1129.0 139.1,1129.3 138.8,1129.5 138.6,1129.8 138.3,1130.1 138.1,1130.3 137.9,1130.6 137.6,1130.9 137.4,1131.2 137.1,1131.6 136.9,1131.9 136.6,1132.2 136.4,1132.5 136.1,1132.8 135.9,1133.2 135.6,1133.5 135.4,1133.8 135.1,1134.1 134.8,1134.4 134.6,1134.7 134.3,1135.0 134.0,1135.3 133.7,1135.6 133.4,1135.9 133.1,1136.1 132.8,1136.4 132.5,1136.6 132.2,1136.8 131.9,1137.0 131.5,1137.2 131.2,1137.4 130.9,1137.6 130.5,1137.7 130.2,1137.8 129.8,1137.9 129.5,1138.0 129.1,1138.1 128.7,1138.1 128.4,1138.2 128.0,1138.2 127.6,1138.2 127.2,1138.2 126.9,1138.1 126.5,1138.1 126.1,1138.0 125.7,1137.9 125.3,1137.9 124.9,1137.8 124.5,1137.6 124.2,1137.5 123.8,1137.4 123.4,1137.2 123.0,1137.1 122.6,1136.9 122.3,1136.8 121.9,1136.6 121.5,1136.4 121.1,1136.3 120.8,1136.1 120.4,1135.9 120.0,1135.8 119.7,1135.6 119.3,1135.4 119.0,1135.3 118.6,1135.1 118.2,1135.0 117.9,1134.9 117.6,1134.7 117.2,1134.6 116.9,1134.5 116.5,1134.4 116.2,1134.4 115.8,1134.3 115.5,1134.3 115.2,1134.2 114.8,1134.2 114.5,1134.2 114.2,1134.2 113.8,1134.2 113.5,1134.3 113.2,1134.3 112.8,1134.4 112.5,1134.4 112.1,1134.5 111.8,1134.6 111.4,1134.7 111.1,1134.9 110.8,1135.0 110.4,1135.1 110.0,1135.3 109.7,1135.4 109.3,1135.6 109.0,1135.8 108.6,1135.9 108.2,1136.1 107.9,1136.3 107.5,1136.4 107.1,1136.6 106.7,1136.8 106.4,1136.9 106.0,1137.1 105.6,1137.2 105.2,1137.4 104.8,1137.5 104.5,1137.6 104.1,1137.8 103.7,1137.9 103.3,1137.9 102.9,1138.0 102.5,1138.1 102.1,1138.1 101.8,1138.2 101.4,1138.2 101.0,1138.2 100.6,1138.2 100.3,1138.1 99.9,1138.1 99.5,1138.0 99.2,1137.9 98.8,1137.8 98.5,1137.7 98.1,1137.6 97.8,1137.4 97.5,1137.2 97.1,1137.0 96.8,1136.8 96.5,1136.6 96.2,1136.4 95.9,1136.1 95.6,1135.9 95.3,1135.6 95.0,1135.3 94.7,1135.0 94.4,1134.7 94.2,1134.4 93.9,1134.1 93.6,1133.8 93.4,1133.5 93.1,1133.2 92.9,1132.8 92.6,1132.5 92.4,1132.2 92.1,1131.9 91.9,1131.6 91.6,1131.2 91.4,1130.9 91.1,1130.6 90.9,1130.3 90.7,1130.1 90.4,1129.8 90.2,1129.5 89.9,1129.3 89.6,1129.0 89.4,1128.8 89.1,1128.5 88.8,1128.3 88.6,1128.1 88.3,1127.9 88.0,1127.8 87.7,1127.6 87.4,1127.5 87.1,1127.3 86.8,1127.2 86.5,1127.1 86.1,1127.0 85.8,1126.9 85.5,1126.8 85.1,1126.7 84.8,1126.7 84.4,1126.6 84.0,1126.6 83.7,1126.5 83.3,1126.5 82.9,1126.4 82.5,1126.4 82.1,1126.4 81.7,1126.4 81.3,1126.4 80.9,1126.3 80.5,1126.3 80.1,1126.3 79.7,1126.3 79.2,1126.2 78.8,1126.2 78.4,1126.1 78.0,1126.1 77.6,1126.0 77.2,1126.0 76.8,1125.9 76.4,1125.8 76.1,1125.7 75.7,1125.6 75.3,1125.5 74.9,1125.3 74.6,1125.2 74.3,1125.0 73.9,1124.9 73.6,1124.7 73.3,1124.5 73.0,1124.3 72.7,1124.0 72.4,1123.8 72.2,1123.5 71.9,1123.3 71.7,1123.0 71.4,1122.7 71.2,1122.4 71.0,1122.1 70.8,1121.7 70.6,1121.4 70.5,1121.0 70.3,1120.7 70.2,1120.3 70.0,1119.9 69.9,1119.6 69.8,1119.2 69.7,1118.8 69.6,1118.4 69.5,1118.0 69.4,1117.6 69.3,1117.2 69.2,1116.8 69.2,1116.4 69.1,1116.0 69.0,1115.6 69.0,1115.2 68.9,1114.8 68.8,1114.4 68.7,1114.0 68.7,1113.6 68.6,1113.2 68.5,1112.9 68.4,1112.5 68.3,1112.2 68.2,1111.8 68.1,1111.5 68.0,1111.1 67.8,1110.8 67.7,1110.5 67.6,1110.2 67.4,1109.9 67.2,1109.6 67.0,1109.3 66.8,1109.0 66.6,1108.8 66.4,1108.5 66.2,1108.3 66.0,1108.0 65.7,1107.8 65.4,1107.6 65.2,1107.3 64.9,1107.1 64.6,1106.9 64.3,1106.7 64.0,1106.5 63.6,1106.3 63.3,1106.0 63.0,1105.8 62.6,1105.6 62.3,1105.4 62.0,1105.2 61.6,1105.0 61.3,1104.8 60.9,1104.6 60.6,1104.4 60.2,1104.2 59.9,1103.9 59.5,1103.7 59.2,1103.5 58.9,1103.2 58.5,1103.0 58.2,1102.7 57.9,1102.5 57.6,1102.2 57.3,1102.0 57.1,1101.7 56.8,1101.4 56.6,1101.1 56.3,1100.8 56.1,1100.5 55.9,1100.2 55.7,1099.8 55.6,1099.5 55.4,1099.2 55.3,1098.8 55.2,1098.5 55.1,1098.1 55.0,1097.8 54.9,1097.4 54.9,1097.0 54.8,1096.7 54.8,1096.3 54.8,1095.9 54.8,1095.5 54.8,1095.1 54.9,1094.7 54.9,1094.3 55.0,1093.9 55.1,1093.5 55.2,1093.1 55.3,1092.7 55.4,1092.3 55.5,1091.9 55.6,1091.6 55.7,1091.2 55.8,1090.8 55.9,1090.4 56.1,1090.0 56.2,1089.6 56.3,1089.2 56.4,1088.8 56.6,1088.5 56.7,1088.1 56.8,1087.7 56.9,1087.4 57.0,1087.0 57.0,1086.6 57.1,1086.3 57.2,1085.9 57.2,1085.6 57.2,1085.2 57.3,1084.9 57.3,1084.5 57.3,1084.2 57.3,1083.9 57.2,1083.5 57.2,1083.2 57.1,1082.9 57.1,1082.5 57.0,1082.2 56.9,1081.9 56.8,1081.6 56.6,1081.2 56.5,1080.9 56.3,1080.6 56.2,1080.2 56.0,1079.9 55.8,1079.6 55.7,1079.2 55.5,1078.9 55.3,1078.6 55.1,1078.2 54.9,1077.9 54.6,1077.5 54.4,1077.2 54.2,1076.9 54.0,1076.5 53.8,1076.1 53.6,1075.8 53.4,1075.4 53.2,1075.1 53.0,1074.7 52.8,1074.3 52.6,1074.0 52.5,1073.6 52.3,1073.2 52.2,1072.9 52.1,1072.5 51.9,1072.1 51.8,1071.8 51.8,1071.4 51.7,1071.0 51.7,1070.6 51.6,1070.3 51.6,1069.9 51.6,1069.5 51.6,1069.2 51.7,1068.8 51.7,1068.4 51.8,1068.1 51.9,1067.7 52.0,1067.3 52.1,1067.0 52.3,1066.6 52.4,1066.3 52.6,1066.0 52.8,1065.6 53.0,1065.3 53.2,1065.0 53.5,1064.6 53.7,1064.3 53.9,1064.0 54.2,1063.7 54.5,1063.4 54.8,1063.1 55.0,1062.8 55.3,1062.5 55.6,1062.2 55.9,1061.9 56.2,1061.6 56.5,1061.3 56.8,1061.0 57.0,1060.7 57.3,1060.5 57.6,1060.2 57.9,1059.9 58.1,1059.6 58.4,1059.3 58.6,1059.1 58.9,1058.8 59.1,1058.5 59.3,1058.2 59.5,1057.9 59.7,1057.6 59.9,1057.3 60.1,1057.1 60.2,1056.8 60.4,1056.4 60.5,1056.1 60.6,1055.8 60.7,1055.5 60.8,1055.2 60.9,1054.8 61.0,1054.5 61.0,1054.2 61.1,1053.8 61.1,1053.5 61.1,1053.1 61.1,1052.7 61.1,1052.4 61.1,1052.0 61.1,1051.6 61.1,1051.2 61.1,1050.8 61.1,1050.4 61.0,1050.0 61.0,1049.6 61.0,1049.2 61.0,1048.8 60.9,1048.4 60.9,1048.0 60.9,1047.6 60.9,1047.2 60.9,1046.8 60.9,1046.4 60.9,1046.0 60.9,1045.5 60.9,1045.1 61.0,1044.8 61.0,1044.4 61.1,1044.0 61.1,1043.6 61.2,1043.2 61.3,1042.8 61.4,1042.5 61.6,1042.1 61.7,1041.8 61.9,1041.4 62.0,1041.1 62.2,1040.8 62.4,1040.5 62.7,1040.2 62.9,1039.9 63.1,1039.6 63.4,1039.4 63.7,1039.1 64.0,1038.9 64.3,1038.6 64.6,1038.4 64.9,1038.2 65.2,1038.0 65.6,1037.8 65.9,1037.6 66.3,1037.5 66.7,1037.3 67.0,1037.1 67.4,1037.0 67.8,1036.9 68.2,1036.7 68.6,1036.6 69.0,1036.5 69.4,1036.3 69.8,1036.2 70.1,1036.1 70.5,1036.0 70.9,1035.9 71.3,1035.7 71.7,1035.6 72.0,1035.5 72.4,1035.4 72.8,1035.3 73.1,1035.1 73.5,1035.0 73.8,1034.8 74.1,1034.7 74.4,1034.5 74.7,1034.4 75.0,1034.2 75.3,1034.0 75.6,1033.8 75.9,1033.6 76.1,1033.4 76.4,1033.2 76.6,1032.9 76.9,1032.7 77.1,1032.4 77.3,1032.2 77.5,1031.9 77.7,1031.6 77.9,1031.3 78.1,1031.0 78.3,1030.7 78.4,1030.4 78.6,1030.0 78.8,1029.7 79.0,1029.3 79.1,1029.0 79.3,1028.6 79.4,1028.3 79.6,1027.9 79.8,1027.5 79.9,1027.1 80.1,1026.8 80.3,1026.4 80.5,1026.0 80.6,1025.6 80.8,1025.3 81.0,1024.9 81.2,1024.6 81.4,1024.2 81.6,1023.9 81.8,1023.5 82.1,1023.2 82.3,1022.9 82.5,1022.6 82.8,1022.3 83.0,1022.0 83.3,1021.7 83.6,1021.5 83.9,1021.2 84.2,1021.0 84.5,1020.8 84.8,1020.6 85.1,1020.4 85.4,1020.3 85.8,1020.1 86.1,1020.0 86.5,1019.9 86.8,1019.8 87.2,1019.7 87.6,1019.6 88.0,1019.6 88.3,1019.6 88.7,1019.5 89.1,1019.5 89.5,1019.5 89.9,1019.5 90.3,1019.6 90.7,1019.6 91.1,1019.6 91.5,1019.7 92.0,1019.7 92.4,1019.8 92.8,1019.9 93.2,1020.0 93.6,1020.0 94.0,1020.1 94.4,1020.2 94.8,1020.3 95.2,1020.3 95.5,1020.4 95.9,1020.5 96.3,1020.5 96.7,1020.6 97.1,1020.6 97.4,1020.7 97.8,1020.7 98.2,1020.7 98.5,1020.7 98.9,1020.7 99.2,1020.7 99.5,1020.7 99.9,1020.6 100.2,1020.6 100.5,1020.5 100.9,1020.4 101.2,1020.3 101.5,1020.2 101.8,1020.1 102.1,1020.0 102.5,1019.8 102.8,1019.7 103.1,1019.5 103.4,1019.3 103.7,1019.1 104.0,1018.9 104.3,1018.7 104.6,1018.5 104.9,1018.2 105.2,1018.0 105.5,1017.8 105.9,1017.5 106.2,1017.3 106.5,1017.0 106.8,1016.8 107.1,1016.5 107.5,1016.2 107.8,1016.0 108.1,1015.8 108.4,1015.5 108.8,1015.3 109.1,1015.1 109.5,1014.8 109.8,1014.6 110.2,1014.4 110.5,1014.2 110.9,1014.1 111.2,1013.9 111.6,1013.8 111.9,1013.6 112.3,1013.5 112.7,1013.4 113.0,1013.3 113.4,1013.3 113.8,1013.2 114.1,1013.2 114.5,1013.2 114.9,1013.2 115.2,1013.2 115.6,1013.3 116.0,1013.3 116.3,1013.4 116.7,1013.5 117.1,1013.6 117.4,1013.8 117.8,1013.9 118.1,1014.1 118.5,1014.2 118.8,1014.4 119.2,1014.6 119.5,1014.8 119.9,1015.1 120.2,1015.3 120.6,1015.5 120.9,1015.8 121.2,1016.0 121.5,1016.2 121.9,1016.5 122.2,1016.8 122.5,1017.0 122.8,1017.3 123.1,1017.5 123.5,1017.8 123.8,1018.0 124.1,1018.2 124.4,1018.5 124.7,1018.7 125.0,1018.9 125.3,1019.1 125.6,1019.3 125.9,1019.5 126.2,1019.7 126.5,1019.8 126.9,1020.0 127.2,1020.1 127.5,1020.2 127.8,1020.3 128.1,1020.4 128.5,1020.5 128.8,1020.6 129.1,1020.6 129.5,1020.7 129.8,1020.7 130.1,1020.7 130.5,1020.7 130.8,1020.7 131.2,1020.7 131.6,1020.7 131.9,1020.6 132.3,1020.6 132.7,1020.5 133.1,1020.5 133.5,1020.4 133.8,1020.3 134.2,1020.3 134.6,1020.2 135.0,1020.1 135.4,1020.0 135.8,1020.0 136.2,1019.9 136.6,1019.8 137.0,1019.7 137.5,1019.7 137.9,1019.6 138.3,1019.6 138.7,1019.6 139.1,1019.5 139.5,1019.5 139.9,1019.5 140.3,1019.5 140.7,1019.6 141.0,1019.6 141.4,1019.6 141.8,1019.7 142.2,1019.8 142.5,1019.9 142.9,1020.0 143.2,1020.1 143.6,1020.3 143.9,1020.4 144.2,1020.6 144.5,1020.8 144.8,1021.0 145.1,1021.2 145.4,1021.5 145.7,1021.7 146.0,1022.0 146.2,1022.3 146.5,1022.6 146.7,1022.9 146.9,1023.2 147.2,1023.5 147.4,1023.9 147.6,1024.2 147.8,1024.6 148.0,1024.9 148.2,1025.3 148.4,1025.6 148.5,1026.0 148.7,1026.4 148.9,1026.8 149.1,1027.1 149.2,1027.5 149.4,1027.9 149.6,1028.3 149.7,1028.6 149.9,1029.0 150.0,1029.3 150.2,1029.7 150.4,1030.0 150.6,1030.4 150.7,1030.7 150.9,1031.0 151.1,1031.3 151.3,1031.6 151.5,1031.9 151.7,1032.2 151.9,1032.4 152.1,1032.7 152.4,1032.9 152.6,1033.2 152.9,1033.4 153.1,1033.6 153.4,1033.8 153.7,1034.0 154.0,1034.2 154.3,1034.4 154.6,1034.5 154.9,1034.7 155.2,1034.8 155.5,1035.0 155.9,1035.1 156.2,1035.3 156.6,1035.4 157.0,1035.5 157.3,1035.6 157.7,1035.7 158.1,1035.9 158.5,1036.0 158.9,1036.1 159.2,1036.2 159.6,1036.3 160.0,1036.5 160.4,1036.6 160.8,1036.7 161.2,1036.9 161.6,1037.0 162.0,1037.1 162.3,1037.3 162.7,1037.5 163.1,1037.6 163.4,1037.8 163.8,1038.0 164.1,1038.2 164.4,1038.4 164.7,1038.6 165.0,1038.9 165.3,1039.1 165.6,1039.4 165.9,1039.6 166.1,1039.9 166.3,1040.2 166.6,1040.5 166.8,1040.8 167.0,1041.1 167.1,1041.4 167.3,1041.8 167.4,1042.1 167.6,1042.5 167.7,1042.8 167.8,1043.2 167.9,1043.6 167.9,1044.0 168.0,1044.4 168.0,1044.8 168.1,1045.1 168.1,1045.5 168.1,1046.0 168.1,1046.4 168.1,1046.8 168.1,1047.2 168.1,1047.6 168.1,1048.0 168.1,1048.4 168.0,1048.8 168.0,1049.2 168.0,1049.6 168.0,1050.0 167.9,1050.4 167.9,1050.8 167.9,1051.2 167.9,1051.6 167.9,1052.0 167.9,1052.4 167.9,1052.7 167.9,1053.1 167.9,1053.5 167.9,1053.8 168.0,1054.2 168.0,1054.5 168.1,1054.8 168.2,1055.2 168.3,1055.5 168.4,1055.8 168.5,1056.1 168.6,1056.4 168.8,1056.8 168.9,1057.1 169.1,1057.3 169.3,1057.6 169.5,1057.9 169.7,1058.2 169.9,1058.5 170.1,1058.8 170.4,1059.1 170.6,1059.3 170.9,1059.6 171.1,1059.9 171.4,1060.2 171.7,1060.5 172.0,1060.7 172.2,1061.0 172.5,1061.3 172.8,1061.6 173.1,1061.9 173.4,1062.2 173.7,1062.5 174.0,1062.8 174.2,1063.1 174.5,1063.4 174.8,1063.7 175.1,1064.0 175.3,1064.3 175.5,1064.6 175.8,1065.0 176.0,1065.3 176.2,1065.6 176.4,1066.0 176.6,1066.3 176.7,1066.6 176.9,1067.0 177.0,1067.3 177.1,1067.7 177.2,1068.1 177.3,1068.4 177.3,1068.8 177.4,1069.2 177.4,1069.5 177.4,1069.9 177.4,1070.3 177.3,1070.6 177.3,1071.0 177.2,1071.4 177.2,1071.8 177.1,1072.1 176.9,1072.5 176.8,1072.9 176.7,1073.2 176.5,1073.6 176.4,1074.0 176.2,1074.3 176.0,1074.7 175.8,1075.1 175.6,1075.4 175.4,1075.8 175.2,1076.1 175.0,1076.5" fill="none" stroke="#3c6e5a" stroke-width="1.2"/>
<path id="arcT" d="M 73.3 1131.2 A 68.5 68.5 0 1 1 155.7 1131.2" fill="none"/>
<text font-family="'Liberation Sans', Arial, sans-serif" font-size="10.2" font-weight="bold" fill="#231f20"><textPath href="#arcT" textLength="339.9" lengthAdjust="spacingAndGlyphs" startOffset="1">Sindicato dos Servidores Públicos Municipais de Brusque e Região</textPath></text>
<path d="M 64 1056 L 70 1054 L 80 1056 L 92 1055 L 104 1057 L 110 1053 L 116 1049 L 124 1050 L 132 1048 L 140 1050 L 150 1048 L 159 1049 L 161 1060 L 158 1068 L 160 1078 L 157 1090 L 159 1100 L 152 1108 L 146 1116 L 140 1118 L 143 1110 L 138 1106 L 134 1098 L 128 1090 L 120 1086 L 112 1080 L 100 1076 L 88 1075 L 76 1073 L 66 1072 L 63 1064 Z" fill="url(#gMap)"/>
<text x="151" y="1080" font-family="'Liberation Sans', Arial, sans-serif" font-size="9" font-weight="bold" fill="#fff" text-anchor="middle">✕</text>
<text x="62.5" y="1089.5" font-family="'Liberation Sans', Arial, sans-serif" font-size="9.2" fill="#4a4a4a" textLength="34.5" lengthAdjust="spacingAndGlyphs">Brusque</text>
<text x="79.0" y="1106.2" font-family="'Liberation Sans', Arial, sans-serif" font-size="9.2" fill="#4a4a4a" textLength="38.5" lengthAdjust="spacingAndGlyphs">Botuverá</text>
<text x="92.6" y="1122.5" font-family="'Liberation Sans', Arial, sans-serif" font-size="9.2" fill="#4a4a4a" textLength="45.5" lengthAdjust="spacingAndGlyphs">Guabiruba</text>
<text x="114.6" y="1153.2" font-family="'Liberation Sans', Arial, sans-serif" font-size="15.5" font-weight="bold" fill="#231f20" text-anchor="middle" textLength="58.5" lengthAdjust="spacingAndGlyphs">SINSEB</text>
<rect x="33" y="623" width="251" height="50" fill="#000" fill-opacity="0.45" filter="url(#fBlur2)"/>
<rect x="30.5" y="619.8" width="250" height="49.5" fill="#4a8449"/>
<text x="55.5" y="657.2" font-family="'Liberation Sans', Arial, sans-serif" font-size="43.5" font-weight="bold" fill="#fff" textLength="195.0" lengthAdjust="spacingAndGlyphs" stroke="#111" stroke-width="3.6" paint-order="stroke" stroke-linejoin="round">EM OUTUBRO</text>
<text x="34.6" y="704.5" font-family="'Liberation Sans', Arial, sans-serif" font-size="24" font-weight="bold" fill="#1a1a1a" textLength="8.0" lengthAdjust="spacingAndGlyphs">O</text>
<text x="48.4" y="704.5" font-family="'Liberation Sans', Arial, sans-serif" font-size="28.5" font-weight="bold" fill="#1a1a1a" textLength="56.5" lengthAdjust="spacingAndGlyphs">SINSEB,</text>
<text x="109.6" y="704.5" font-family="'Liberation Sans', Arial, sans-serif" font-size="24" font-weight="bold" fill="#1a1a1a" textLength="410.5" lengthAdjust="spacingAndGlyphs">SINDICATO DOS SERVIDORES PÚBLICOS DE BRUSQUE E REGIÃO,</text>
<text x="55.0" y="743.4" font-family="'Liberation Sans', Arial, sans-serif" font-size="25.2" font-weight="bold" fill="#1a1a1a" textLength="449.5" lengthAdjust="spacingAndGlyphs">DESEJA AOS SERVIDORES PÚBLICOS MUNICIPAIS DA ÁREA DA SAÚDE,</text>
<text x="137.5" y="783.6" font-family="'Liberation Sans', Arial, sans-serif" font-size="39" font-weight="bold" fill="#1a1a1a" textLength="291.5" lengthAdjust="spacingAndGlyphs">OS PARABÉNS PELO SEU DIA:</text>
<polygon points="110.5,798.5 470,798.5 454.5,849.7 97,849.7" fill="#4b8a4c"/>
<polygon points="110.5,858 470,858 454.5,893.7 97,893.7" fill="#1f4a22"/>
<polygon points="110.5,900 470,900 454.5,936.2 97,936.2" fill="#4b8a4c"/>
<polygon points="110.5,942 470,942 454.5,981.3 97,981.3" fill="#1f4a22"/>
<text x="115.6" y="819.8" font-family="'Liberation Sans', Arial, sans-serif" font-size="24" font-weight="bold" fill="#fff" textLength="340.5" lengthAdjust="spacingAndGlyphs" stroke="#111" stroke-width="3" paint-order="stroke" stroke-linejoin="round">04.10 - DIA DO AGENTE COMUNITÁRIO DE SAÚDE</text>
<text x="230.0" y="846.3" font-family="'Liberation Sans', Arial, sans-serif" font-size="24" font-weight="bold" fill="#fff" textLength="111.5" lengthAdjust="spacingAndGlyphs" stroke="#111" stroke-width="3" paint-order="stroke" stroke-linejoin="round">E DE ENDEMIAS</text>
<text x="154.0" y="886.5" font-family="'Liberation Sans', Arial, sans-serif" font-size="29.5" font-weight="bold" fill="#fff" textLength="258.0" lengthAdjust="spacingAndGlyphs" stroke="#111" stroke-width="3" paint-order="stroke" stroke-linejoin="round">13.10 - DIA DO FISIOTERAPEUTA</text>
<text x="188.5" y="930.0" font-family="'Liberation Sans', Arial, sans-serif" font-size="28.5" font-weight="bold" fill="#fff" textLength="186.5" lengthAdjust="spacingAndGlyphs" stroke="#111" stroke-width="3" paint-order="stroke" stroke-linejoin="round">18.10 - DIA DO MÉDICO</text>
<text x="181.6" y="971.4" font-family="'Liberation Sans', Arial, sans-serif" font-size="29.5" font-weight="bold" fill="#fff" textLength="202.5" lengthAdjust="spacingAndGlyphs" stroke="#111" stroke-width="3" paint-order="stroke" stroke-linejoin="round">25.10 - DIA DO DENTISTA</text>
</svg>
</body></html>
